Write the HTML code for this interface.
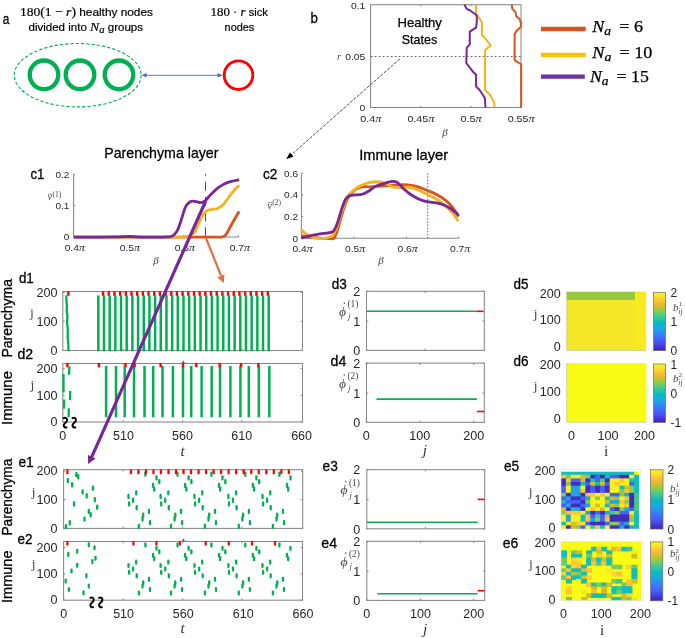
<!DOCTYPE html>
<html><head><meta charset="utf-8"><title>figure</title>
<style>html,body{margin:0;padding:0;background:#fff}svg{display:block}</style></head>
<body><svg width="685" height="638" viewBox="0 0 685 638">
<rect width="685" height="638" fill="#fff"/>
<text x="2.8" y="24" font-family='"Liberation Sans", sans-serif' font-size="15.5" fill="#000" textLength="6.6" lengthAdjust="spacingAndGlyphs" stroke="#000" stroke-width="0.3">a</text>
<text x="19.9" y="16" font-family='"Liberation Sans", sans-serif' font-size="11.3" fill="#000" textLength="133" lengthAdjust="spacingAndGlyphs" stroke="#000" stroke-width="0.2"><tspan font-family='"Liberation Serif", serif' font-size="13">180(1 − <tspan font-style="italic">r</tspan>)</tspan> healthy nodes</text>
<text x="28.5" y="31" font-family='"Liberation Sans", sans-serif' font-size="11.3" fill="#000" textLength="114.5" lengthAdjust="spacingAndGlyphs" stroke="#000" stroke-width="0.2">divided into <tspan font-family='"Liberation Serif", serif' font-style="italic" font-size="13.5">N<tspan font-size="10.5" dy="2">a</tspan></tspan><tspan dy="-2"> groups</tspan></text>
<ellipse cx="77.7" cy="75.2" rx="63.4" ry="31.7" fill="none" stroke="#00B050" stroke-width="1.15" stroke-dasharray="3.3 2"/>
<circle cx="44" cy="74.8" r="14.3" fill="none" stroke="#00B050" stroke-width="4.3"/>
<circle cx="80" cy="74.8" r="14.3" fill="none" stroke="#00B050" stroke-width="4.3"/>
<circle cx="119" cy="74.8" r="14.3" fill="none" stroke="#00B050" stroke-width="4.3"/>
<circle cx="238.5" cy="75.2" r="14.3" fill="none" stroke="#FF0000" stroke-width="2.9"/>
<line x1="145" y1="75.3" x2="219" y2="75.3" stroke="#4472C4" stroke-width="0.9"/>
<path d="M141.3 75.3 L146.6 73 L146.6 77.6 Z" fill="#4472C4"/>
<path d="M222.8 75.3 L217.5 73 L217.5 77.6 Z" fill="#4472C4"/>
<text x="210.6" y="16" font-family='"Liberation Sans", sans-serif' font-size="11.3" fill="#000" textLength="57.3" lengthAdjust="spacingAndGlyphs" stroke="#000" stroke-width="0.2"><tspan font-family='"Liberation Serif", serif' font-size="13">180 · <tspan font-style="italic">r</tspan></tspan> sick</text>
<text x="224.6" y="31" font-family='"Liberation Sans", sans-serif' font-size="11.3" fill="#000" textLength="29.7" lengthAdjust="spacingAndGlyphs" stroke="#000" stroke-width="0.2">nodes</text>
<text x="310.6" y="22.7" font-family='"Liberation Sans", sans-serif' font-size="15.5" fill="#000" textLength="7.4" lengthAdjust="spacingAndGlyphs" stroke="#000" stroke-width="0.3">b</text>
<rect x="370.6" y="4.7" width="150.4" height="102.8" fill="none" stroke="#878787" stroke-width="1.05"/>
<text x="397.5" y="26.9" font-family='"Liberation Sans", sans-serif' font-size="13.4" fill="#000" textLength="44.4" lengthAdjust="spacingAndGlyphs" stroke="#000" stroke-width="0.25">Healthy</text>
<text x="401.7" y="43.7" font-family='"Liberation Sans", sans-serif' font-size="13.4" fill="#000" textLength="35.5" lengthAdjust="spacingAndGlyphs" stroke="#000" stroke-width="0.25">States</text>
<line x1="370.6" y1="56.5" x2="521" y2="56.5" stroke="#333" stroke-width="0.7" stroke-dasharray="2 2"/>
<text x="365.4" y="8.9" font-family='"Liberation Sans", sans-serif' font-size="9.9" fill="#262626" text-anchor="end" textLength="14.46" lengthAdjust="spacingAndGlyphs">0.1</text>
<text x="365.4" y="60.1" font-family='"Liberation Sans", sans-serif' font-size="9.9" fill="#262626" text-anchor="end" textLength="20.24" lengthAdjust="spacingAndGlyphs">0.05</text>
<text x="365.4" y="111.1" font-family='"Liberation Sans", sans-serif' font-size="9.9" fill="#262626" text-anchor="end" textLength="5.78" lengthAdjust="spacingAndGlyphs">0</text>
<text x="339" y="59.5" font-family='"Liberation Serif", serif' font-size="10" fill="#454545" text-anchor="middle" font-style="italic">r</text>
<text x="370.8" y="122.2" font-family='"Liberation Sans", sans-serif' font-size="9.9" fill="#262626" text-anchor="middle" textLength="21.21" lengthAdjust="spacingAndGlyphs">0.4<tspan font-family='"Liberation Serif", serif' font-style="italic" font-size="11.4">π</tspan></text>
<text x="420.93" y="122.2" font-family='"Liberation Sans", sans-serif' font-size="9.9" fill="#262626" text-anchor="middle" textLength="27" lengthAdjust="spacingAndGlyphs">0.45<tspan font-family='"Liberation Serif", serif' font-style="italic" font-size="11.4">π</tspan></text>
<line x1="420.73" y1="107.5" x2="420.73" y2="106" stroke="#878787" stroke-width="1.05"/>
<line x1="420.73" y1="4.7" x2="420.73" y2="6.2" stroke="#878787" stroke-width="1.05"/>
<text x="471.07" y="122.2" font-family='"Liberation Sans", sans-serif' font-size="9.9" fill="#262626" text-anchor="middle" textLength="21.21" lengthAdjust="spacingAndGlyphs">0.5<tspan font-family='"Liberation Serif", serif' font-style="italic" font-size="11.4">π</tspan></text>
<line x1="470.87" y1="107.5" x2="470.87" y2="106" stroke="#878787" stroke-width="1.05"/>
<line x1="470.87" y1="4.7" x2="470.87" y2="6.2" stroke="#878787" stroke-width="1.05"/>
<text x="521.2" y="122.2" font-family='"Liberation Sans", sans-serif' font-size="9.9" fill="#262626" text-anchor="middle" textLength="27" lengthAdjust="spacingAndGlyphs">0.55<tspan font-family='"Liberation Serif", serif' font-style="italic" font-size="11.4">π</tspan></text>
<text x="445" y="135.5" font-family='"Liberation Serif", serif' font-size="11" fill="#454545" text-anchor="middle" font-style="italic">β</text>
<path d="M511.82 4.67 L512.29 8.88 L515.33 11.68 L516.26 16.36 L519.3 18.69 L521.17 23.36 L520.47 27.57 L516.96 30.37 L514.63 33.88 L514.63 60.28 L521.17 64.25 L521.17 107.48" fill="none" stroke="#D9531A" stroke-width="2.0" stroke-linejoin="round"/>
<path d="M476.07 4.67 L476.07 15.19 L478.88 17.52 L481.92 22.2 L481.92 35.05 L485.42 38.55 L490.79 45.56 L487.76 47.9 L484.95 50.23 L484.95 89.95 L488.93 93.46 L491.26 96.96 L494.3 102.8 L494.3 107.48" fill="none" stroke="#F2B41E" stroke-width="2.0" stroke-linejoin="round"/>
<path d="M464.39 4.67 L466.73 8.88 L470.23 10.51 L476.78 15.19 L476.78 22.2 L476.07 27.57 L469.77 31.54 L469.77 44.39 L466.73 47.9 L466.26 63.08 L469.07 66.59 L472.57 71.26 L476.07 74.77 L476.07 86.45 L479.58 89.95 L481.92 93.46 L484.95 98.13 L485.42 107.48" fill="none" stroke="#7A2699" stroke-width="2.0" stroke-linejoin="round"/>
<line x1="540.9" y1="29" x2="585.7" y2="29" stroke="#D9541C" stroke-width="4.3"/>
<line x1="540.9" y1="54.9" x2="585.7" y2="54.9" stroke="#FFC000" stroke-width="4.3"/>
<line x1="540.9" y1="76.6" x2="584.8" y2="76.6" stroke="#7030A0" stroke-width="4.3"/>
<text x="592.3" y="31.5" font-family='"Liberation Serif", serif' font-size="16.5" fill="#000" textLength="50.7" lengthAdjust="spacingAndGlyphs" stroke="#000" stroke-width="0.25"><tspan font-style="italic">N<tspan font-size="12.5" dy="3">a</tspan></tspan><tspan dy="-3">  = 6</tspan></text>
<text x="592.3" y="58" font-family='"Liberation Serif", serif' font-size="16.5" fill="#000" textLength="60" lengthAdjust="spacingAndGlyphs" stroke="#000" stroke-width="0.25"><tspan font-style="italic">N<tspan font-size="12.5" dy="3">a</tspan></tspan><tspan dy="-3">  = 10</tspan></text>
<text x="590" y="81.8" font-family='"Liberation Serif", serif' font-size="16.5" fill="#000" textLength="58.8" lengthAdjust="spacingAndGlyphs" stroke="#000" stroke-width="0.25"><tspan font-style="italic">N<tspan font-size="12.5" dy="3">a</tspan></tspan><tspan dy="-3">  = 15</tspan></text>
<line x1="399.8" y1="58.9" x2="291" y2="155" stroke="#222" stroke-width="0.8" stroke-dasharray="3.2 1.3"/>
<path d="M286.2 159.2 L289.9 152.4 L293.6 156.4 Z" fill="#000"/>
<text x="104.2" y="157.5" font-family='"Liberation Sans", sans-serif' font-size="15" fill="#000" textLength="114.3" lengthAdjust="spacingAndGlyphs" stroke="#000" stroke-width="0.3">Parenchyma layer</text>
<text x="359.2" y="160" font-family='"Liberation Sans", sans-serif' font-size="15" fill="#000" textLength="89" lengthAdjust="spacingAndGlyphs" stroke="#000" stroke-width="0.3">Immune layer</text>
<text x="30.4" y="178.6" font-family='"Liberation Sans", sans-serif' font-size="15.3" fill="#000" textLength="14" lengthAdjust="spacingAndGlyphs" stroke="#000" stroke-width="0.3">c1</text>
<line x1="73.6" y1="173.9" x2="73.6" y2="237" stroke="#878787" stroke-width="1.05"/>
<line x1="73.6" y1="237" x2="238.6" y2="237" stroke="#878787" stroke-width="1.05"/>
<text x="69.4" y="177.7" font-family='"Liberation Sans", sans-serif' font-size="9.3" fill="#262626" text-anchor="end" textLength="13.9" lengthAdjust="spacingAndGlyphs">0.2</text>
<line x1="73.6" y1="174.3" x2="75.2" y2="174.3" stroke="#878787" stroke-width="1.05"/>
<text x="69.4" y="208.8" font-family='"Liberation Sans", sans-serif' font-size="9.3" fill="#262626" text-anchor="end" textLength="13.9" lengthAdjust="spacingAndGlyphs">0.1</text>
<line x1="73.6" y1="205.4" x2="75.2" y2="205.4" stroke="#878787" stroke-width="1.05"/>
<text x="69.4" y="240.4" font-family='"Liberation Sans", sans-serif' font-size="9.3" fill="#262626" text-anchor="end" textLength="5.56" lengthAdjust="spacingAndGlyphs">0</text>
<line x1="73.6" y1="237" x2="75.2" y2="237" stroke="#878787" stroke-width="1.05"/>
<text x="74.8" y="251.2" font-family='"Liberation Sans", sans-serif' font-size="9.3" fill="#262626" text-anchor="middle" textLength="20.29" lengthAdjust="spacingAndGlyphs">0.4<tspan font-family='"Liberation Serif", serif' font-style="italic" font-size="10.8">π</tspan></text>
<line x1="73.6" y1="237" x2="73.6" y2="235.2" stroke="#878787" stroke-width="1.05"/>
<text x="129.8" y="251.2" font-family='"Liberation Sans", sans-serif' font-size="9.3" fill="#262626" text-anchor="middle" textLength="20.29" lengthAdjust="spacingAndGlyphs">0.5<tspan font-family='"Liberation Serif", serif' font-style="italic" font-size="10.8">π</tspan></text>
<line x1="128.6" y1="237" x2="128.6" y2="235.2" stroke="#878787" stroke-width="1.05"/>
<text x="184.8" y="251.2" font-family='"Liberation Sans", sans-serif' font-size="9.3" fill="#262626" text-anchor="middle" textLength="20.29" lengthAdjust="spacingAndGlyphs">0.6<tspan font-family='"Liberation Serif", serif' font-style="italic" font-size="10.8">π</tspan></text>
<line x1="183.6" y1="237" x2="183.6" y2="235.2" stroke="#878787" stroke-width="1.05"/>
<text x="239.8" y="251.2" font-family='"Liberation Sans", sans-serif' font-size="9.3" fill="#262626" text-anchor="middle" textLength="20.29" lengthAdjust="spacingAndGlyphs">0.7<tspan font-family='"Liberation Serif", serif' font-style="italic" font-size="10.8">π</tspan></text>
<line x1="238.6" y1="237" x2="238.6" y2="235.2" stroke="#878787" stroke-width="1.05"/>
<text x="156.1" y="263.5" font-family='"Liberation Serif", serif' font-size="11" fill="#454545" text-anchor="middle" font-style="italic">β</text>
<text x="47.4" y="200.4" font-family='"Liberation Serif", serif' font-size="10.5" fill="#454545" font-style="italic">ν</text>
<line x1="48.2" y1="194.1" x2="52" y2="194.1" stroke="#454545" stroke-width="0.6"/>
<text x="52.4" y="196.8" font-family='"Liberation Serif", serif' font-size="7.5" fill="#454545">(1)</text>
<line x1="205.5" y1="173.9" x2="205.5" y2="237" stroke="#222" stroke-width="0.8" stroke-dasharray="9.3 5.9" stroke-dashoffset="7.5"/>
<path d="M73.69 237.2 C83.08 237.2 112.83 237.2 130 237.2 C147.17 237.2 163.88 237.2 176.73 237.2 C189.58 237.2 200.29 237.2 207.1 237.2 C213.92 237.2 215.16 237.23 217.62 237.2 C220.07 237.17 220.46 237.4 221.82 237.01 C223.19 236.62 224.35 236.62 225.79 234.86 C227.24 233.1 228.91 229.21 230.47 226.45 C232.02 223.68 233.7 220.76 235.14 218.27 C236.58 215.78 238.45 212.62 239.11 211.5" fill="none" stroke="#D9531A" stroke-width="2.8" stroke-linejoin="round"/>
<path d="M73.69 237.2 C83.08 237.2 114.77 237.2 130 237.2 C145.23 237.2 157.06 237.2 165.05 237.2 C173.03 237.2 174.7 237.24 177.9 237.2 C181.09 237.16 182.22 237.2 184.21 236.96 C186.19 236.73 188.06 236.57 189.81 235.79 C191.57 235.02 193.12 234.63 194.72 232.29 C196.32 229.95 197.87 224.89 199.39 221.78 C200.91 218.66 202.35 215.55 203.83 213.6 C205.31 211.65 206.87 210.79 208.27 210.09 C209.67 209.39 210.69 209.67 212.24 209.39 C213.8 209.12 215.75 209.31 217.62 208.46 C219.49 207.6 221.32 206.51 223.46 204.25 C225.6 201.99 227.86 198.1 230.47 194.91 C233.08 191.71 237.67 186.73 239.11 185.09" fill="none" stroke="#F2B41E" stroke-width="2.8" stroke-linejoin="round"/>
<path d="M73.69 237.08 C77.24 237.08 87.9 237.1 94.95 237.08 C102 237.06 110.14 237.06 115.98 236.96 C121.82 236.87 125.33 236.48 130 236.5 C134.67 236.51 139.35 236.98 144.02 237.08 C148.69 237.18 154.14 237.12 158.04 237.08 C161.93 237.04 165.28 236.94 167.38 236.85 C169.49 236.75 169.56 236.79 170.65 236.5 C171.74 236.2 172.76 236.18 173.93 235.09 C175.09 234 176.42 232.56 177.66 229.95 C178.91 227.34 180.16 223.14 181.4 219.44 C182.65 215.74 183.89 210.56 185.14 207.76 C186.39 204.95 187.63 203.71 188.88 202.62 C190.12 201.53 191.33 201.37 192.62 201.21 C193.9 201.06 195.26 201.45 196.59 201.68 C197.91 201.92 199.2 202.69 200.56 202.62 C201.92 202.54 203.29 202.31 204.77 201.21 C206.25 200.12 207.49 198.1 209.44 196.07 C211.39 194.05 214.11 191.01 216.45 189.07 C218.79 187.12 221.12 185.64 223.46 184.39 C225.79 183.15 227.86 182.37 230.47 181.59 C233.08 180.81 237.67 180.03 239.11 179.72" fill="none" stroke="#7A2699" stroke-width="2.8" stroke-linejoin="round"/>
<text x="262.9" y="179" font-family='"Liberation Sans", sans-serif' font-size="15.3" fill="#000" textLength="14.4" lengthAdjust="spacingAndGlyphs" stroke="#000" stroke-width="0.3">c2</text>
<line x1="301.4" y1="173.2" x2="301.4" y2="238.2" stroke="#878787" stroke-width="1.05"/>
<line x1="301.4" y1="238.2" x2="458.9" y2="238.2" stroke="#878787" stroke-width="1.05"/>
<text x="298" y="241.6" font-family='"Liberation Sans", sans-serif' font-size="9.3" fill="#262626" text-anchor="end" textLength="5.56" lengthAdjust="spacingAndGlyphs">0</text>
<line x1="301.4" y1="238.2" x2="303" y2="238.2" stroke="#878787" stroke-width="1.05"/>
<text x="298" y="219.93" font-family='"Liberation Sans", sans-serif' font-size="9.3" fill="#262626" text-anchor="end" textLength="13.9" lengthAdjust="spacingAndGlyphs">0.2</text>
<line x1="301.4" y1="216.53" x2="303" y2="216.53" stroke="#878787" stroke-width="1.05"/>
<text x="298" y="198.27" font-family='"Liberation Sans", sans-serif' font-size="9.3" fill="#262626" text-anchor="end" textLength="13.9" lengthAdjust="spacingAndGlyphs">0.4</text>
<line x1="301.4" y1="194.87" x2="303" y2="194.87" stroke="#878787" stroke-width="1.05"/>
<text x="298" y="177" font-family='"Liberation Sans", sans-serif' font-size="9.3" fill="#262626" text-anchor="end" textLength="13.9" lengthAdjust="spacingAndGlyphs">0.6</text>
<line x1="301.4" y1="173.2" x2="303" y2="173.2" stroke="#878787" stroke-width="1.05"/>
<text x="302.6" y="252.3" font-family='"Liberation Sans", sans-serif' font-size="9.3" fill="#262626" text-anchor="middle" textLength="20.29" lengthAdjust="spacingAndGlyphs">0.4<tspan font-family='"Liberation Serif", serif' font-style="italic" font-size="10.8">π</tspan></text>
<line x1="301.4" y1="238.2" x2="301.4" y2="236.4" stroke="#878787" stroke-width="1.05"/>
<text x="355.1" y="252.3" font-family='"Liberation Sans", sans-serif' font-size="9.3" fill="#262626" text-anchor="middle" textLength="20.29" lengthAdjust="spacingAndGlyphs">0.5<tspan font-family='"Liberation Serif", serif' font-style="italic" font-size="10.8">π</tspan></text>
<line x1="353.9" y1="238.2" x2="353.9" y2="236.4" stroke="#878787" stroke-width="1.05"/>
<text x="407.6" y="252.3" font-family='"Liberation Sans", sans-serif' font-size="9.3" fill="#262626" text-anchor="middle" textLength="20.29" lengthAdjust="spacingAndGlyphs">0.6<tspan font-family='"Liberation Serif", serif' font-style="italic" font-size="10.8">π</tspan></text>
<line x1="406.4" y1="238.2" x2="406.4" y2="236.4" stroke="#878787" stroke-width="1.05"/>
<text x="460.1" y="252.3" font-family='"Liberation Sans", sans-serif' font-size="9.3" fill="#262626" text-anchor="middle" textLength="20.29" lengthAdjust="spacingAndGlyphs">0.7<tspan font-family='"Liberation Serif", serif' font-style="italic" font-size="10.8">π</tspan></text>
<line x1="458.9" y1="238.2" x2="458.9" y2="236.4" stroke="#878787" stroke-width="1.05"/>
<text x="381" y="264" font-family='"Liberation Serif", serif' font-size="11" fill="#454545" text-anchor="middle" font-style="italic">β</text>
<text x="267.2" y="209" font-family='"Liberation Serif", serif' font-size="10.5" fill="#454545" font-style="italic">ν</text>
<line x1="268" y1="202.7" x2="271.8" y2="202.7" stroke="#454545" stroke-width="0.6"/>
<text x="272.2" y="205.4" font-family='"Liberation Serif", serif' font-size="7.5" fill="#454545">(2)</text>
<line x1="427.7" y1="173.2" x2="427.7" y2="238.2" stroke="#222" stroke-width="0.7" stroke-dasharray="1.6 1.6"/>
<path d="M301.4 235.61 C302.57 235.84 305.3 236.58 308.41 237.01 C311.53 237.44 316.39 237.9 320.09 238.18 C323.79 238.45 328.19 238.76 330.61 238.64 C333.02 238.53 333.22 239.62 334.58 237.48 C335.94 235.33 337.31 230.47 338.79 225.79 C340.26 221.12 341.9 214.11 343.46 209.44 C345.02 204.77 346.18 201.07 348.13 197.76 C350.08 194.45 352.8 191.41 355.14 189.58 C357.48 187.75 359.42 187.24 362.15 186.78 C364.88 186.31 366.96 186.97 371.5 186.78 C376.03 186.58 384.81 185.92 389.35 185.61 C393.88 185.3 395.58 185.02 398.69 184.91 C401.81 184.79 404.92 184.63 408.04 184.91 C411.15 185.18 414.27 185.65 417.38 186.54 C420.5 187.44 423.61 189 426.73 190.28 C429.84 191.57 432.96 192.62 436.07 194.25 C439.19 195.89 442.69 197.95 445.42 200.09 C448.15 202.24 450.21 204.38 452.43 207.1 C454.65 209.83 457.69 214.89 458.74 216.45" fill="none" stroke="#D9531A" stroke-width="2.8" stroke-linejoin="round"/>
<path d="M301.4 230 C302.18 230.66 304.13 232.73 306.07 233.97 C308.02 235.22 310.75 236.7 313.08 237.48 C315.42 238.26 317.76 238.57 320.09 238.64 C322.43 238.72 324.96 238.53 327.1 237.94 C329.24 237.36 331.39 236.78 332.94 235.14 C334.5 233.5 335.09 231.64 336.45 228.13 C337.81 224.63 339.56 218.79 341.12 214.11 C342.68 209.44 344.24 203.6 345.79 200.09 C347.35 196.59 348.13 195.42 350.47 193.08 C352.8 190.75 356.7 187.83 359.81 186.07 C362.93 184.32 365.79 183.27 369.16 182.57 C372.52 181.87 377.02 181.6 380 181.87 C382.98 182.14 384.67 183.31 387.01 184.21 C389.35 185.1 391.68 186.62 394.02 187.24 C396.36 187.87 398.69 187.94 401.03 187.94 C403.36 187.94 405.31 186.97 408.04 187.24 C410.76 187.52 414.27 188.41 417.38 189.58 C420.5 190.75 423.61 192.69 426.73 194.25 C429.84 195.81 432.96 196.98 436.07 198.93 C439.19 200.87 442.69 203.6 445.42 205.93 C448.15 208.27 450.29 210.41 452.43 212.94 C454.57 215.48 457.3 219.76 458.27 221.12" fill="none" stroke="#F2B41E" stroke-width="2.8" stroke-linejoin="round"/>
<path d="M301.4 238.18 C302.96 237.75 307.63 236.31 310.75 235.61 C313.86 234.91 316.59 234.56 320.09 233.97 C323.6 233.39 329.24 233.08 331.78 232.1 C334.31 231.13 334.11 230.35 335.28 228.13 C336.45 225.91 337.62 222.29 338.79 218.79 C339.95 215.28 341.12 210.41 342.29 207.1 C343.46 203.79 344.63 200.79 345.79 198.93 C346.96 197.06 347.74 196.55 349.3 195.89 C350.86 195.23 353 195.23 355.14 194.95 C357.28 194.68 359.81 194.95 362.15 194.25 C364.49 193.55 366.82 192.11 369.16 190.75 C371.5 189.38 373.19 187.44 376.17 186.07 C379.14 184.71 384.23 183.35 387.01 182.57 C389.79 181.79 391.1 181.4 392.85 181.4 C394.6 181.4 395.77 181.4 397.52 182.57 C399.28 183.74 401.22 186.46 403.36 188.41 C405.51 190.36 407.84 192.5 410.37 194.25 C412.9 196 415.83 197.68 418.55 198.93 C421.28 200.17 423.81 201.07 426.73 201.73 C429.65 202.39 433.35 202.39 436.07 202.9 C438.8 203.4 440.75 203.87 443.08 204.77 C445.42 205.66 447.48 206.52 450.09 208.27 C452.7 210.02 457.3 214.11 458.74 215.28" fill="none" stroke="#7A2699" stroke-width="2.8" stroke-linejoin="round"/>
<text x="18.9" y="283.1" font-family='"Liberation Sans", sans-serif' font-size="15.3" fill="#000" textLength="14.9" lengthAdjust="spacingAndGlyphs" stroke="#000" stroke-width="0.3">d1</text>
<text x="11.6" y="357.5" font-family='"Liberation Sans", sans-serif' font-size="15.3" fill="#000" textLength="78.5" lengthAdjust="spacingAndGlyphs" transform="rotate(-90 11.6 357.5)" stroke="#000" stroke-width="0.3">Parenchyma</text>
<text x="11.6" y="425" font-family='"Liberation Sans", sans-serif' font-size="15.3" fill="#000" textLength="54" lengthAdjust="spacingAndGlyphs" transform="rotate(-90 11.6 425)" stroke="#000" stroke-width="0.3">Immune</text>
<text x="32" y="316.7" font-family='"Liberation Serif", serif' font-size="13.5" fill="#454545" text-anchor="middle">j</text>
<text x="182.9" y="368.6" font-family='"Liberation Serif", serif' font-size="15" fill="#454545" text-anchor="middle" font-style="italic">t</text>
<rect x="62.8" y="291.5" width="239.7" height="59" fill="none" stroke="#878787" stroke-width="1.05"/>
<text x="57.6" y="296.7" font-family='"Liberation Sans", sans-serif' font-size="12" fill="#262626" text-anchor="end" textLength="21.02" lengthAdjust="spacingAndGlyphs">200</text>
<line x1="62.8" y1="292.5" x2="64.6" y2="292.5" stroke="#878787" stroke-width="1.05"/>
<line x1="302.5" y1="292.5" x2="300.7" y2="292.5" stroke="#878787" stroke-width="1.05"/>
<text x="57.6" y="325.5" font-family='"Liberation Sans", sans-serif' font-size="12" fill="#262626" text-anchor="end" textLength="21.02" lengthAdjust="spacingAndGlyphs">100</text>
<line x1="62.8" y1="321.3" x2="64.6" y2="321.3" stroke="#878787" stroke-width="1.05"/>
<line x1="302.5" y1="321.3" x2="300.7" y2="321.3" stroke="#878787" stroke-width="1.05"/>
<text x="57.6" y="354.7" font-family='"Liberation Sans", sans-serif' font-size="12" fill="#262626" text-anchor="end" textLength="7.01" lengthAdjust="spacingAndGlyphs">0</text>
<line x1="62.8" y1="350.5" x2="64.6" y2="350.5" stroke="#878787" stroke-width="1.05"/>
<line x1="302.5" y1="350.5" x2="300.7" y2="350.5" stroke="#878787" stroke-width="1.05"/>
<line x1="123.2" y1="350.5" x2="123.2" y2="348.7" stroke="#878787" stroke-width="1.05"/>
<line x1="123.2" y1="291.5" x2="123.2" y2="293.3" stroke="#878787" stroke-width="1.05"/>
<line x1="182.6" y1="350.5" x2="182.6" y2="348.7" stroke="#878787" stroke-width="1.05"/>
<line x1="182.6" y1="291.5" x2="182.6" y2="293.3" stroke="#878787" stroke-width="1.05"/>
<line x1="242" y1="350.5" x2="242" y2="348.7" stroke="#878787" stroke-width="1.05"/>
<line x1="242" y1="291.5" x2="242" y2="293.3" stroke="#878787" stroke-width="1.05"/>
<path d="M66.4 295.3 L66.3 300 L66.9 305 L66.7 311 L67.4 316 L67.1 323 L67.8 330 L67.7 338 L68.3 344 L68.5 351.2" fill="none" stroke="#00B050" stroke-width="2.3" stroke-linejoin="round"/>
<rect x="67.1" y="291.2" width="2.4" height="4.6" fill="#FF0000"/>
<line x1="98.3" y1="295.4" x2="98.3" y2="351.3" stroke="#00B050" stroke-width="2.5"/>
<line x1="103.98" y1="295.4" x2="103.98" y2="351.3" stroke="#00B050" stroke-width="2.5"/>
<rect x="101.88" y="291.2" width="2.4" height="4.6" fill="#FF0000"/>
<line x1="109.66" y1="295.4" x2="109.66" y2="351.3" stroke="#00B050" stroke-width="2.5"/>
<rect x="107.56" y="291.2" width="2.4" height="4.6" fill="#FF0000"/>
<line x1="115.34" y1="295.4" x2="115.34" y2="351.3" stroke="#00B050" stroke-width="2.5"/>
<rect x="113.24" y="291.2" width="2.4" height="4.6" fill="#FF0000"/>
<line x1="121.02" y1="295.4" x2="121.02" y2="351.3" stroke="#00B050" stroke-width="2.5"/>
<rect x="118.92" y="291.2" width="2.4" height="4.6" fill="#FF0000"/>
<line x1="126.7" y1="295.4" x2="126.7" y2="351.3" stroke="#00B050" stroke-width="2.5"/>
<rect x="124.6" y="291.2" width="2.4" height="4.6" fill="#FF0000"/>
<line x1="132.38" y1="295.4" x2="132.38" y2="351.3" stroke="#00B050" stroke-width="2.5"/>
<rect x="130.28" y="291.2" width="2.4" height="4.6" fill="#FF0000"/>
<line x1="138.06" y1="295.4" x2="138.06" y2="351.3" stroke="#00B050" stroke-width="2.5"/>
<rect x="135.96" y="291.2" width="2.4" height="4.6" fill="#FF0000"/>
<line x1="143.74" y1="295.4" x2="143.74" y2="351.3" stroke="#00B050" stroke-width="2.5"/>
<rect x="141.64" y="291.2" width="2.4" height="4.6" fill="#FF0000"/>
<line x1="149.42" y1="295.4" x2="149.42" y2="351.3" stroke="#00B050" stroke-width="2.5"/>
<rect x="147.32" y="291.2" width="2.4" height="4.6" fill="#FF0000"/>
<line x1="155.1" y1="295.4" x2="155.1" y2="351.3" stroke="#00B050" stroke-width="2.5"/>
<rect x="153" y="291.2" width="2.4" height="4.6" fill="#FF0000"/>
<line x1="160.78" y1="295.4" x2="160.78" y2="351.3" stroke="#00B050" stroke-width="2.5"/>
<rect x="158.68" y="291.2" width="2.4" height="4.6" fill="#FF0000"/>
<line x1="166.46" y1="295.4" x2="166.46" y2="351.3" stroke="#00B050" stroke-width="2.5"/>
<rect x="164.36" y="291.2" width="2.4" height="4.6" fill="#FF0000"/>
<line x1="172.14" y1="295.4" x2="172.14" y2="351.3" stroke="#00B050" stroke-width="2.5"/>
<rect x="170.04" y="291.2" width="2.4" height="4.6" fill="#FF0000"/>
<line x1="177.82" y1="295.4" x2="177.82" y2="351.3" stroke="#00B050" stroke-width="2.5"/>
<rect x="175.72" y="291.2" width="2.4" height="4.6" fill="#FF0000"/>
<line x1="183.5" y1="295.4" x2="183.5" y2="351.3" stroke="#00B050" stroke-width="2.5"/>
<rect x="181.4" y="291.2" width="2.4" height="4.6" fill="#FF0000"/>
<line x1="189.18" y1="295.4" x2="189.18" y2="351.3" stroke="#00B050" stroke-width="2.5"/>
<rect x="187.08" y="291.2" width="2.4" height="4.6" fill="#FF0000"/>
<line x1="194.86" y1="295.4" x2="194.86" y2="351.3" stroke="#00B050" stroke-width="2.5"/>
<rect x="192.76" y="291.2" width="2.4" height="4.6" fill="#FF0000"/>
<line x1="200.54" y1="295.4" x2="200.54" y2="351.3" stroke="#00B050" stroke-width="2.5"/>
<rect x="198.44" y="291.2" width="2.4" height="4.6" fill="#FF0000"/>
<line x1="206.22" y1="295.4" x2="206.22" y2="351.3" stroke="#00B050" stroke-width="2.5"/>
<rect x="204.12" y="291.2" width="2.4" height="4.6" fill="#FF0000"/>
<line x1="211.9" y1="295.4" x2="211.9" y2="351.3" stroke="#00B050" stroke-width="2.5"/>
<rect x="209.8" y="291.2" width="2.4" height="4.6" fill="#FF0000"/>
<line x1="217.58" y1="295.4" x2="217.58" y2="351.3" stroke="#00B050" stroke-width="2.5"/>
<rect x="215.48" y="291.2" width="2.4" height="4.6" fill="#FF0000"/>
<line x1="223.26" y1="295.4" x2="223.26" y2="351.3" stroke="#00B050" stroke-width="2.5"/>
<rect x="221.16" y="291.2" width="2.4" height="4.6" fill="#FF0000"/>
<line x1="228.94" y1="295.4" x2="228.94" y2="351.3" stroke="#00B050" stroke-width="2.5"/>
<rect x="226.84" y="291.2" width="2.4" height="4.6" fill="#FF0000"/>
<line x1="234.62" y1="295.4" x2="234.62" y2="351.3" stroke="#00B050" stroke-width="2.5"/>
<rect x="232.52" y="291.2" width="2.4" height="4.6" fill="#FF0000"/>
<line x1="240.3" y1="295.4" x2="240.3" y2="351.3" stroke="#00B050" stroke-width="2.5"/>
<rect x="238.2" y="291.2" width="2.4" height="4.6" fill="#FF0000"/>
<line x1="245.98" y1="295.4" x2="245.98" y2="351.3" stroke="#00B050" stroke-width="2.5"/>
<rect x="243.88" y="291.2" width="2.4" height="4.6" fill="#FF0000"/>
<line x1="251.66" y1="295.4" x2="251.66" y2="351.3" stroke="#00B050" stroke-width="2.5"/>
<rect x="249.56" y="291.2" width="2.4" height="4.6" fill="#FF0000"/>
<line x1="257.34" y1="295.4" x2="257.34" y2="351.3" stroke="#00B050" stroke-width="2.5"/>
<rect x="255.24" y="291.2" width="2.4" height="4.6" fill="#FF0000"/>
<line x1="263.02" y1="295.4" x2="263.02" y2="351.3" stroke="#00B050" stroke-width="2.5"/>
<rect x="260.92" y="291.2" width="2.4" height="4.6" fill="#FF0000"/>
<line x1="268.7" y1="295.4" x2="268.7" y2="351.3" stroke="#00B050" stroke-width="2.5"/>
<rect x="266.6" y="291.2" width="2.4" height="4.6" fill="#FF0000"/>
<text x="17.5" y="359.1" font-family='"Liberation Sans", sans-serif' font-size="15.3" fill="#000" textLength="15.7" lengthAdjust="spacingAndGlyphs" stroke="#000" stroke-width="0.3">d2</text>
<text x="32.3" y="388.7" font-family='"Liberation Serif", serif' font-size="13.5" fill="#454545" text-anchor="middle">j</text>
<rect x="62.8" y="363.5" width="239.7" height="58.5" fill="#fff"/>
<rect x="62.8" y="363.5" width="239.7" height="58.5" fill="none" stroke="#878787" stroke-width="1.05"/>
<text x="57.6" y="372.8" font-family='"Liberation Sans", sans-serif' font-size="12" fill="#262626" text-anchor="end" textLength="21.02" lengthAdjust="spacingAndGlyphs">200</text>
<line x1="62.8" y1="368.6" x2="64.6" y2="368.6" stroke="#878787" stroke-width="1.05"/>
<line x1="302.5" y1="368.6" x2="300.7" y2="368.6" stroke="#878787" stroke-width="1.05"/>
<text x="57.6" y="399.6" font-family='"Liberation Sans", sans-serif' font-size="12" fill="#262626" text-anchor="end" textLength="21.02" lengthAdjust="spacingAndGlyphs">100</text>
<line x1="62.8" y1="395.4" x2="64.6" y2="395.4" stroke="#878787" stroke-width="1.05"/>
<line x1="302.5" y1="395.4" x2="300.7" y2="395.4" stroke="#878787" stroke-width="1.05"/>
<text x="57.6" y="426.2" font-family='"Liberation Sans", sans-serif' font-size="12" fill="#262626" text-anchor="end" textLength="7.01" lengthAdjust="spacingAndGlyphs">0</text>
<line x1="62.8" y1="422" x2="64.6" y2="422" stroke="#878787" stroke-width="1.05"/>
<line x1="302.5" y1="422" x2="300.7" y2="422" stroke="#878787" stroke-width="1.05"/>
<line x1="123.2" y1="422" x2="123.2" y2="420.2" stroke="#878787" stroke-width="1.05"/>
<line x1="123.2" y1="363.5" x2="123.2" y2="365.3" stroke="#878787" stroke-width="1.05"/>
<line x1="182.6" y1="422" x2="182.6" y2="420.2" stroke="#878787" stroke-width="1.05"/>
<line x1="182.6" y1="363.5" x2="182.6" y2="365.3" stroke="#878787" stroke-width="1.05"/>
<line x1="242" y1="422" x2="242" y2="420.2" stroke="#878787" stroke-width="1.05"/>
<line x1="242" y1="363.5" x2="242" y2="365.3" stroke="#878787" stroke-width="1.05"/>
<text x="62.8" y="439.8" font-family='"Liberation Sans", sans-serif' font-size="12" fill="#262626" text-anchor="middle" textLength="6.95" lengthAdjust="spacingAndGlyphs">0</text>
<text x="123.5" y="439.8" font-family='"Liberation Sans", sans-serif' font-size="12" fill="#262626" text-anchor="middle" textLength="20.85" lengthAdjust="spacingAndGlyphs">510</text>
<text x="182.5" y="439.8" font-family='"Liberation Sans", sans-serif' font-size="12" fill="#262626" text-anchor="middle" textLength="20.85" lengthAdjust="spacingAndGlyphs">560</text>
<text x="241.7" y="439.8" font-family='"Liberation Sans", sans-serif' font-size="12" fill="#262626" text-anchor="middle" textLength="20.85" lengthAdjust="spacingAndGlyphs">610</text>
<text x="301.6" y="439.8" font-family='"Liberation Sans", sans-serif' font-size="12" fill="#262626" text-anchor="middle" textLength="20.85" lengthAdjust="spacingAndGlyphs">660</text>
<text x="182.7" y="456" font-family='"Liberation Serif", serif' font-size="15" fill="#333" text-anchor="middle" font-style="italic">t</text>
<line x1="106.1" y1="366" x2="106.1" y2="417.3" stroke="#00B050" stroke-width="2.5"/>
<line x1="116" y1="366" x2="116" y2="417.3" stroke="#00B050" stroke-width="2.5"/>
<line x1="124.7" y1="366" x2="124.7" y2="417.3" stroke="#00B050" stroke-width="2.5"/>
<line x1="134" y1="366" x2="134" y2="417.3" stroke="#00B050" stroke-width="2.5"/>
<line x1="144.5" y1="366" x2="144.5" y2="417.3" stroke="#00B050" stroke-width="2.5"/>
<line x1="153.2" y1="366" x2="153.2" y2="417.3" stroke="#00B050" stroke-width="2.5"/>
<line x1="162.5" y1="366" x2="162.5" y2="417.3" stroke="#00B050" stroke-width="2.5"/>
<line x1="172.9" y1="366" x2="172.9" y2="417.3" stroke="#00B050" stroke-width="2.5"/>
<line x1="183" y1="366" x2="183" y2="417.3" stroke="#00B050" stroke-width="2.5"/>
<line x1="191.2" y1="366" x2="191.2" y2="417.3" stroke="#00B050" stroke-width="2.5"/>
<line x1="201.6" y1="366" x2="201.6" y2="417.3" stroke="#00B050" stroke-width="2.5"/>
<line x1="211.7" y1="366" x2="211.7" y2="417.3" stroke="#00B050" stroke-width="2.5"/>
<line x1="220" y1="366" x2="220" y2="417.3" stroke="#00B050" stroke-width="2.5"/>
<line x1="230.4" y1="366" x2="230.4" y2="417.3" stroke="#00B050" stroke-width="2.5"/>
<line x1="240.4" y1="366" x2="240.4" y2="417.3" stroke="#00B050" stroke-width="2.5"/>
<line x1="248.8" y1="366" x2="248.8" y2="417.3" stroke="#00B050" stroke-width="2.5"/>
<line x1="258.8" y1="366" x2="258.8" y2="417.3" stroke="#00B050" stroke-width="2.5"/>
<line x1="269.3" y1="366" x2="269.3" y2="417.3" stroke="#00B050" stroke-width="2.5"/>
<rect x="66.2" y="362.9" width="2.4" height="4.4" fill="#FF0000"/>
<rect x="97.7" y="362.9" width="2.4" height="4.4" fill="#FF0000"/>
<rect x="124.3" y="362.9" width="2.4" height="4.4" fill="#FF0000"/>
<rect x="133.4" y="362.9" width="2.4" height="4.4" fill="#FF0000"/>
<rect x="159.4" y="362.9" width="2.4" height="4.4" fill="#FF0000"/>
<rect x="181.8" y="362.9" width="2.4" height="4.4" fill="#FF0000"/>
<rect x="195.1" y="362.9" width="2.4" height="4.4" fill="#FF0000"/>
<rect x="218.5" y="362.9" width="2.4" height="4.4" fill="#FF0000"/>
<rect x="239.8" y="362.9" width="2.4" height="4.4" fill="#FF0000"/>
<rect x="257.1" y="362.9" width="2.4" height="4.4" fill="#FF0000"/>
<line x1="63.5" y1="374" x2="63.5" y2="392.4" stroke="#00B050" stroke-width="2.3"/>
<line x1="64.1" y1="399.5" x2="64.1" y2="408.7" stroke="#00B050" stroke-width="2.3"/>
<line x1="69.3" y1="366.5" x2="69.1" y2="374.8" stroke="#00B050" stroke-width="2.3"/>
<line x1="70.2" y1="391" x2="70" y2="400.2" stroke="#00B050" stroke-width="2.3"/>
<line x1="68.8" y1="408.2" x2="68.6" y2="417.2" stroke="#00B050" stroke-width="2.3"/>
<path d="M63.7 418.1 C65.8 417.2 67.8 418.6 66.9 421 C66.2 423 63.4 423.5 63.7 425.5 C64 426.9 65.4 427.6 66.5 427.6" fill="none" stroke="#000" stroke-width="2" stroke-linecap="round"/>
<path d="M72.5 418.1 C74.6 417.2 76.6 418.6 75.7 421 C75 423 72.2 423.5 72.5 425.5 C72.8 426.9 74.2 427.6 75.3 427.6" fill="none" stroke="#000" stroke-width="2" stroke-linecap="round"/>
<text x="18.4" y="467.3" font-family='"Liberation Sans", sans-serif' font-size="15.3" fill="#000" textLength="15.4" lengthAdjust="spacingAndGlyphs" stroke="#000" stroke-width="0.3">e1</text>
<text x="11.6" y="535.6" font-family='"Liberation Sans", sans-serif' font-size="15.3" fill="#000" textLength="77" lengthAdjust="spacingAndGlyphs" transform="rotate(-90 11.6 535.6)" stroke="#000" stroke-width="0.3">Parenchyma</text>
<text x="11.6" y="603" font-family='"Liberation Sans", sans-serif' font-size="15.3" fill="#000" textLength="52.5" lengthAdjust="spacingAndGlyphs" transform="rotate(-90 11.6 603)" stroke="#000" stroke-width="0.3">Immune</text>
<text x="33.6" y="495.9" font-family='"Liberation Serif", serif' font-size="13.5" fill="#454545" text-anchor="middle">j</text>
<rect x="63.6" y="469.7" width="239.1" height="58.7" fill="none" stroke="#878787" stroke-width="1.05"/>
<text x="57.6" y="475.3" font-family='"Liberation Sans", sans-serif' font-size="12" fill="#262626" text-anchor="end" textLength="21.02" lengthAdjust="spacingAndGlyphs">200</text>
<line x1="63.6" y1="471.1" x2="65.4" y2="471.1" stroke="#878787" stroke-width="1.05"/>
<line x1="302.7" y1="471.1" x2="300.9" y2="471.1" stroke="#878787" stroke-width="1.05"/>
<text x="57.6" y="503.8" font-family='"Liberation Sans", sans-serif' font-size="12" fill="#262626" text-anchor="end" textLength="21.02" lengthAdjust="spacingAndGlyphs">100</text>
<line x1="63.6" y1="499.6" x2="65.4" y2="499.6" stroke="#878787" stroke-width="1.05"/>
<line x1="302.7" y1="499.6" x2="300.9" y2="499.6" stroke="#878787" stroke-width="1.05"/>
<text x="57.6" y="532.6" font-family='"Liberation Sans", sans-serif' font-size="12" fill="#262626" text-anchor="end" textLength="7.01" lengthAdjust="spacingAndGlyphs">0</text>
<line x1="63.6" y1="528.4" x2="65.4" y2="528.4" stroke="#878787" stroke-width="1.05"/>
<line x1="302.7" y1="528.4" x2="300.9" y2="528.4" stroke="#878787" stroke-width="1.05"/>
<line x1="123.2" y1="528.4" x2="123.2" y2="526.6" stroke="#878787" stroke-width="1.05"/>
<line x1="123.2" y1="469.7" x2="123.2" y2="471.5" stroke="#878787" stroke-width="1.05"/>
<line x1="182.6" y1="528.4" x2="182.6" y2="526.6" stroke="#878787" stroke-width="1.05"/>
<line x1="182.6" y1="469.7" x2="182.6" y2="471.5" stroke="#878787" stroke-width="1.05"/>
<line x1="242" y1="528.4" x2="242" y2="526.6" stroke="#878787" stroke-width="1.05"/>
<line x1="242" y1="469.7" x2="242" y2="471.5" stroke="#878787" stroke-width="1.05"/>
<text x="17.6" y="544" font-family='"Liberation Sans", sans-serif' font-size="15.3" fill="#000" textLength="15" lengthAdjust="spacingAndGlyphs" stroke="#000" stroke-width="0.3">e2</text>
<text x="33.6" y="567.9" font-family='"Liberation Serif", serif' font-size="13.5" fill="#454545" text-anchor="middle">j</text>
<text x="183.1" y="546.6" font-family='"Liberation Serif", serif' font-size="15" fill="#454545" text-anchor="middle" font-style="italic">t</text>
<rect x="63.6" y="541.5" width="238.9" height="58.7" fill="#fff"/>
<rect x="63.6" y="541.5" width="238.9" height="58.7" fill="none" stroke="#878787" stroke-width="1.05"/>
<text x="57.6" y="551.8" font-family='"Liberation Sans", sans-serif' font-size="12" fill="#262626" text-anchor="end" textLength="21.02" lengthAdjust="spacingAndGlyphs">200</text>
<line x1="63.6" y1="547.6" x2="65.4" y2="547.6" stroke="#878787" stroke-width="1.05"/>
<line x1="302.5" y1="547.6" x2="300.7" y2="547.6" stroke="#878787" stroke-width="1.05"/>
<text x="57.6" y="578.2" font-family='"Liberation Sans", sans-serif' font-size="12" fill="#262626" text-anchor="end" textLength="21.02" lengthAdjust="spacingAndGlyphs">100</text>
<line x1="63.6" y1="574" x2="65.4" y2="574" stroke="#878787" stroke-width="1.05"/>
<line x1="302.5" y1="574" x2="300.7" y2="574" stroke="#878787" stroke-width="1.05"/>
<text x="57.6" y="604.4" font-family='"Liberation Sans", sans-serif' font-size="12" fill="#262626" text-anchor="end" textLength="7.01" lengthAdjust="spacingAndGlyphs">0</text>
<line x1="63.6" y1="600.2" x2="65.4" y2="600.2" stroke="#878787" stroke-width="1.05"/>
<line x1="302.5" y1="600.2" x2="300.7" y2="600.2" stroke="#878787" stroke-width="1.05"/>
<line x1="123.2" y1="600.2" x2="123.2" y2="598.4" stroke="#878787" stroke-width="1.05"/>
<line x1="123.2" y1="541.5" x2="123.2" y2="543.3" stroke="#878787" stroke-width="1.05"/>
<line x1="182.6" y1="600.2" x2="182.6" y2="598.4" stroke="#878787" stroke-width="1.05"/>
<line x1="182.6" y1="541.5" x2="182.6" y2="543.3" stroke="#878787" stroke-width="1.05"/>
<line x1="242" y1="600.2" x2="242" y2="598.4" stroke="#878787" stroke-width="1.05"/>
<line x1="242" y1="541.5" x2="242" y2="543.3" stroke="#878787" stroke-width="1.05"/>
<text x="63.7" y="617.6" font-family='"Liberation Sans", sans-serif' font-size="12" fill="#262626" text-anchor="middle" textLength="6.95" lengthAdjust="spacingAndGlyphs">0</text>
<text x="123.6" y="617.6" font-family='"Liberation Sans", sans-serif' font-size="12" fill="#262626" text-anchor="middle" textLength="20.85" lengthAdjust="spacingAndGlyphs">510</text>
<text x="183.2" y="617.6" font-family='"Liberation Sans", sans-serif' font-size="12" fill="#262626" text-anchor="middle" textLength="20.85" lengthAdjust="spacingAndGlyphs">560</text>
<text x="243.2" y="617.6" font-family='"Liberation Sans", sans-serif' font-size="12" fill="#262626" text-anchor="middle" textLength="20.85" lengthAdjust="spacingAndGlyphs">610</text>
<text x="303" y="617.6" font-family='"Liberation Sans", sans-serif' font-size="12" fill="#262626" text-anchor="middle" textLength="20.85" lengthAdjust="spacingAndGlyphs">660</text>
<text x="182.7" y="633.4" font-family='"Liberation Serif", serif' font-size="15" fill="#333" text-anchor="middle" font-style="italic">t</text>
<path d="M90.3 597.8 C92.4 596.9 94.4 598.3 93.5 600.7 C92.8 602.7 90 603.2 90.3 605.2 C90.6 606.6 92 607.3 93.1 607.3" fill="none" stroke="#000" stroke-width="2" stroke-linecap="round"/>
<path d="M99 597.8 C101.1 596.9 103.1 598.3 102.2 600.7 C101.5 602.7 98.7 603.2 99 605.2 C99.3 606.6 100.7 607.3 101.8 607.3" fill="none" stroke="#000" stroke-width="2" stroke-linecap="round"/>
<rect x="137.75" y="523.7" width="2.3" height="5.4" fill="#00B050" rx="1.1"/>
<rect x="148.85" y="519.97" width="2.3" height="5.4" fill="#00B050" rx="1.1"/>
<rect x="141.35" y="516.24" width="2.3" height="5.4" fill="#00B050" rx="1.1"/>
<rect x="142.05" y="512.51" width="2.3" height="5.4" fill="#00B050" rx="1.1"/>
<rect x="147.85" y="508.78" width="2.3" height="5.4" fill="#00B050" rx="1.1"/>
<rect x="135.55" y="505.05" width="2.3" height="5.4" fill="#00B050" rx="1.1"/>
<rect x="127.95" y="501.32" width="2.3" height="5.4" fill="#00B050" rx="1.1"/>
<rect x="131.95" y="497.59" width="2.3" height="5.4" fill="#00B050" rx="1.1"/>
<rect x="127.35" y="493.86" width="2.3" height="5.4" fill="#00B050" rx="1.1"/>
<rect x="135.05" y="490.13" width="2.3" height="5.4" fill="#00B050" rx="1.1"/>
<rect x="153.05" y="486.4" width="2.3" height="5.4" fill="#00B050" rx="1.1"/>
<rect x="151.85" y="482.67" width="2.3" height="5.4" fill="#00B050" rx="1.1"/>
<rect x="158.15" y="478.94" width="2.3" height="5.4" fill="#00B050" rx="1.1"/>
<rect x="155.35" y="475.21" width="2.3" height="5.4" fill="#00B050" rx="1.1"/>
<rect x="144.25" y="471.48" width="2.3" height="5.4" fill="#00B050" rx="1.1"/>
<rect x="169.85" y="523.7" width="2.3" height="5.4" fill="#00B050" rx="1.1"/>
<rect x="180.95" y="519.97" width="2.3" height="5.4" fill="#00B050" rx="1.1"/>
<rect x="173.45" y="516.24" width="2.3" height="5.4" fill="#00B050" rx="1.1"/>
<rect x="174.15" y="512.51" width="2.3" height="5.4" fill="#00B050" rx="1.1"/>
<rect x="179.95" y="508.78" width="2.3" height="5.4" fill="#00B050" rx="1.1"/>
<rect x="167.65" y="505.05" width="2.3" height="5.4" fill="#00B050" rx="1.1"/>
<rect x="160.05" y="501.32" width="2.3" height="5.4" fill="#00B050" rx="1.1"/>
<rect x="164.05" y="497.59" width="2.3" height="5.4" fill="#00B050" rx="1.1"/>
<rect x="159.45" y="493.86" width="2.3" height="5.4" fill="#00B050" rx="1.1"/>
<rect x="167.15" y="490.13" width="2.3" height="5.4" fill="#00B050" rx="1.1"/>
<rect x="185.15" y="486.4" width="2.3" height="5.4" fill="#00B050" rx="1.1"/>
<rect x="183.95" y="482.67" width="2.3" height="5.4" fill="#00B050" rx="1.1"/>
<rect x="190.25" y="478.94" width="2.3" height="5.4" fill="#00B050" rx="1.1"/>
<rect x="187.45" y="475.21" width="2.3" height="5.4" fill="#00B050" rx="1.1"/>
<rect x="176.35" y="471.48" width="2.3" height="5.4" fill="#00B050" rx="1.1"/>
<rect x="203.75" y="523.7" width="2.3" height="5.4" fill="#00B050" rx="1.1"/>
<rect x="214.85" y="519.97" width="2.3" height="5.4" fill="#00B050" rx="1.1"/>
<rect x="207.35" y="516.24" width="2.3" height="5.4" fill="#00B050" rx="1.1"/>
<rect x="208.05" y="512.51" width="2.3" height="5.4" fill="#00B050" rx="1.1"/>
<rect x="213.85" y="508.78" width="2.3" height="5.4" fill="#00B050" rx="1.1"/>
<rect x="201.55" y="505.05" width="2.3" height="5.4" fill="#00B050" rx="1.1"/>
<rect x="193.95" y="501.32" width="2.3" height="5.4" fill="#00B050" rx="1.1"/>
<rect x="197.95" y="497.59" width="2.3" height="5.4" fill="#00B050" rx="1.1"/>
<rect x="193.35" y="493.86" width="2.3" height="5.4" fill="#00B050" rx="1.1"/>
<rect x="201.05" y="490.13" width="2.3" height="5.4" fill="#00B050" rx="1.1"/>
<rect x="219.05" y="486.4" width="2.3" height="5.4" fill="#00B050" rx="1.1"/>
<rect x="217.85" y="482.67" width="2.3" height="5.4" fill="#00B050" rx="1.1"/>
<rect x="224.15" y="478.94" width="2.3" height="5.4" fill="#00B050" rx="1.1"/>
<rect x="221.35" y="475.21" width="2.3" height="5.4" fill="#00B050" rx="1.1"/>
<rect x="210.25" y="471.48" width="2.3" height="5.4" fill="#00B050" rx="1.1"/>
<rect x="237.65" y="523.7" width="2.3" height="5.4" fill="#00B050" rx="1.1"/>
<rect x="248.75" y="519.97" width="2.3" height="5.4" fill="#00B050" rx="1.1"/>
<rect x="241.25" y="516.24" width="2.3" height="5.4" fill="#00B050" rx="1.1"/>
<rect x="241.95" y="512.51" width="2.3" height="5.4" fill="#00B050" rx="1.1"/>
<rect x="247.75" y="508.78" width="2.3" height="5.4" fill="#00B050" rx="1.1"/>
<rect x="235.45" y="505.05" width="2.3" height="5.4" fill="#00B050" rx="1.1"/>
<rect x="227.85" y="501.32" width="2.3" height="5.4" fill="#00B050" rx="1.1"/>
<rect x="231.85" y="497.59" width="2.3" height="5.4" fill="#00B050" rx="1.1"/>
<rect x="227.25" y="493.86" width="2.3" height="5.4" fill="#00B050" rx="1.1"/>
<rect x="234.95" y="490.13" width="2.3" height="5.4" fill="#00B050" rx="1.1"/>
<rect x="252.95" y="486.4" width="2.3" height="5.4" fill="#00B050" rx="1.1"/>
<rect x="251.75" y="482.67" width="2.3" height="5.4" fill="#00B050" rx="1.1"/>
<rect x="258.05" y="478.94" width="2.3" height="5.4" fill="#00B050" rx="1.1"/>
<rect x="255.25" y="475.21" width="2.3" height="5.4" fill="#00B050" rx="1.1"/>
<rect x="244.15" y="471.48" width="2.3" height="5.4" fill="#00B050" rx="1.1"/>
<rect x="271.75" y="523.7" width="2.3" height="5.4" fill="#00B050" rx="1.1"/>
<rect x="282.85" y="519.97" width="2.3" height="5.4" fill="#00B050" rx="1.1"/>
<rect x="275.35" y="516.24" width="2.3" height="5.4" fill="#00B050" rx="1.1"/>
<rect x="276.05" y="512.51" width="2.3" height="5.4" fill="#00B050" rx="1.1"/>
<rect x="281.85" y="508.78" width="2.3" height="5.4" fill="#00B050" rx="1.1"/>
<rect x="269.55" y="505.05" width="2.3" height="5.4" fill="#00B050" rx="1.1"/>
<rect x="261.95" y="501.32" width="2.3" height="5.4" fill="#00B050" rx="1.1"/>
<rect x="265.95" y="497.59" width="2.3" height="5.4" fill="#00B050" rx="1.1"/>
<rect x="261.35" y="493.86" width="2.3" height="5.4" fill="#00B050" rx="1.1"/>
<rect x="269.05" y="490.13" width="2.3" height="5.4" fill="#00B050" rx="1.1"/>
<rect x="287.05" y="486.4" width="2.3" height="5.4" fill="#00B050" rx="1.1"/>
<rect x="285.85" y="482.67" width="2.3" height="5.4" fill="#00B050" rx="1.1"/>
<rect x="289.35" y="475.21" width="2.3" height="5.4" fill="#00B050" rx="1.1"/>
<rect x="278.25" y="471.48" width="2.3" height="5.4" fill="#00B050" rx="1.1"/>
<rect x="137.75" y="590.45" width="2.3" height="5.1" fill="#00B050" rx="1.1"/>
<rect x="148.85" y="587.02" width="2.3" height="5.1" fill="#00B050" rx="1.1"/>
<rect x="141.35" y="583.59" width="2.3" height="5.1" fill="#00B050" rx="1.1"/>
<rect x="142.05" y="580.16" width="2.3" height="5.1" fill="#00B050" rx="1.1"/>
<rect x="147.85" y="576.73" width="2.3" height="5.1" fill="#00B050" rx="1.1"/>
<rect x="135.55" y="573.3" width="2.3" height="5.1" fill="#00B050" rx="1.1"/>
<rect x="127.95" y="569.87" width="2.3" height="5.1" fill="#00B050" rx="1.1"/>
<rect x="131.95" y="566.44" width="2.3" height="5.1" fill="#00B050" rx="1.1"/>
<rect x="127.35" y="563.01" width="2.3" height="5.1" fill="#00B050" rx="1.1"/>
<rect x="135.05" y="559.58" width="2.3" height="5.1" fill="#00B050" rx="1.1"/>
<rect x="153.05" y="556.15" width="2.3" height="5.1" fill="#00B050" rx="1.1"/>
<rect x="151.85" y="552.72" width="2.3" height="5.1" fill="#00B050" rx="1.1"/>
<rect x="158.15" y="549.29" width="2.3" height="5.1" fill="#00B050" rx="1.1"/>
<rect x="155.35" y="545.86" width="2.3" height="5.1" fill="#00B050" rx="1.1"/>
<rect x="144.25" y="542.43" width="2.3" height="5.1" fill="#00B050" rx="1.1"/>
<rect x="169.85" y="590.45" width="2.3" height="5.1" fill="#00B050" rx="1.1"/>
<rect x="180.95" y="587.02" width="2.3" height="5.1" fill="#00B050" rx="1.1"/>
<rect x="173.45" y="583.59" width="2.3" height="5.1" fill="#00B050" rx="1.1"/>
<rect x="174.15" y="580.16" width="2.3" height="5.1" fill="#00B050" rx="1.1"/>
<rect x="179.95" y="576.73" width="2.3" height="5.1" fill="#00B050" rx="1.1"/>
<rect x="167.65" y="573.3" width="2.3" height="5.1" fill="#00B050" rx="1.1"/>
<rect x="160.05" y="569.87" width="2.3" height="5.1" fill="#00B050" rx="1.1"/>
<rect x="164.05" y="566.44" width="2.3" height="5.1" fill="#00B050" rx="1.1"/>
<rect x="159.45" y="563.01" width="2.3" height="5.1" fill="#00B050" rx="1.1"/>
<rect x="167.15" y="559.58" width="2.3" height="5.1" fill="#00B050" rx="1.1"/>
<rect x="185.15" y="556.15" width="2.3" height="5.1" fill="#00B050" rx="1.1"/>
<rect x="183.95" y="552.72" width="2.3" height="5.1" fill="#00B050" rx="1.1"/>
<rect x="190.25" y="549.29" width="2.3" height="5.1" fill="#00B050" rx="1.1"/>
<rect x="187.45" y="545.86" width="2.3" height="5.1" fill="#00B050" rx="1.1"/>
<rect x="176.35" y="542.43" width="2.3" height="5.1" fill="#00B050" rx="1.1"/>
<rect x="203.75" y="590.45" width="2.3" height="5.1" fill="#00B050" rx="1.1"/>
<rect x="214.85" y="587.02" width="2.3" height="5.1" fill="#00B050" rx="1.1"/>
<rect x="207.35" y="583.59" width="2.3" height="5.1" fill="#00B050" rx="1.1"/>
<rect x="208.05" y="580.16" width="2.3" height="5.1" fill="#00B050" rx="1.1"/>
<rect x="213.85" y="576.73" width="2.3" height="5.1" fill="#00B050" rx="1.1"/>
<rect x="201.55" y="573.3" width="2.3" height="5.1" fill="#00B050" rx="1.1"/>
<rect x="193.95" y="569.87" width="2.3" height="5.1" fill="#00B050" rx="1.1"/>
<rect x="197.95" y="566.44" width="2.3" height="5.1" fill="#00B050" rx="1.1"/>
<rect x="193.35" y="563.01" width="2.3" height="5.1" fill="#00B050" rx="1.1"/>
<rect x="201.05" y="559.58" width="2.3" height="5.1" fill="#00B050" rx="1.1"/>
<rect x="219.05" y="556.15" width="2.3" height="5.1" fill="#00B050" rx="1.1"/>
<rect x="217.85" y="552.72" width="2.3" height="5.1" fill="#00B050" rx="1.1"/>
<rect x="224.15" y="549.29" width="2.3" height="5.1" fill="#00B050" rx="1.1"/>
<rect x="221.35" y="545.86" width="2.3" height="5.1" fill="#00B050" rx="1.1"/>
<rect x="210.25" y="542.43" width="2.3" height="5.1" fill="#00B050" rx="1.1"/>
<rect x="237.65" y="590.45" width="2.3" height="5.1" fill="#00B050" rx="1.1"/>
<rect x="248.75" y="587.02" width="2.3" height="5.1" fill="#00B050" rx="1.1"/>
<rect x="241.25" y="583.59" width="2.3" height="5.1" fill="#00B050" rx="1.1"/>
<rect x="241.95" y="580.16" width="2.3" height="5.1" fill="#00B050" rx="1.1"/>
<rect x="247.75" y="576.73" width="2.3" height="5.1" fill="#00B050" rx="1.1"/>
<rect x="235.45" y="573.3" width="2.3" height="5.1" fill="#00B050" rx="1.1"/>
<rect x="227.85" y="569.87" width="2.3" height="5.1" fill="#00B050" rx="1.1"/>
<rect x="231.85" y="566.44" width="2.3" height="5.1" fill="#00B050" rx="1.1"/>
<rect x="227.25" y="563.01" width="2.3" height="5.1" fill="#00B050" rx="1.1"/>
<rect x="234.95" y="559.58" width="2.3" height="5.1" fill="#00B050" rx="1.1"/>
<rect x="252.95" y="556.15" width="2.3" height="5.1" fill="#00B050" rx="1.1"/>
<rect x="251.75" y="552.72" width="2.3" height="5.1" fill="#00B050" rx="1.1"/>
<rect x="258.05" y="549.29" width="2.3" height="5.1" fill="#00B050" rx="1.1"/>
<rect x="255.25" y="545.86" width="2.3" height="5.1" fill="#00B050" rx="1.1"/>
<rect x="244.15" y="542.43" width="2.3" height="5.1" fill="#00B050" rx="1.1"/>
<rect x="271.75" y="590.45" width="2.3" height="5.1" fill="#00B050" rx="1.1"/>
<rect x="282.85" y="587.02" width="2.3" height="5.1" fill="#00B050" rx="1.1"/>
<rect x="275.35" y="583.59" width="2.3" height="5.1" fill="#00B050" rx="1.1"/>
<rect x="276.05" y="580.16" width="2.3" height="5.1" fill="#00B050" rx="1.1"/>
<rect x="281.85" y="576.73" width="2.3" height="5.1" fill="#00B050" rx="1.1"/>
<rect x="269.55" y="573.3" width="2.3" height="5.1" fill="#00B050" rx="1.1"/>
<rect x="261.95" y="569.87" width="2.3" height="5.1" fill="#00B050" rx="1.1"/>
<rect x="265.95" y="566.44" width="2.3" height="5.1" fill="#00B050" rx="1.1"/>
<rect x="261.35" y="563.01" width="2.3" height="5.1" fill="#00B050" rx="1.1"/>
<rect x="269.05" y="559.58" width="2.3" height="5.1" fill="#00B050" rx="1.1"/>
<rect x="287.05" y="556.15" width="2.3" height="5.1" fill="#00B050" rx="1.1"/>
<rect x="285.85" y="552.72" width="2.3" height="5.1" fill="#00B050" rx="1.1"/>
<rect x="289.35" y="545.86" width="2.3" height="5.1" fill="#00B050" rx="1.1"/>
<rect x="278.25" y="542.43" width="2.3" height="5.1" fill="#00B050" rx="1.1"/>
<rect x="66.65" y="477.9" width="2.3" height="5.4" fill="#00B050" rx="1.1"/>
<rect x="70.95" y="482.1" width="2.3" height="5.4" fill="#00B050" rx="1.1"/>
<rect x="75.15" y="471.9" width="2.3" height="5.4" fill="#00B050" rx="1.1"/>
<rect x="77.05" y="474.1" width="2.3" height="5.4" fill="#00B050" rx="1.1"/>
<rect x="72.85" y="501.3" width="2.3" height="5.4" fill="#00B050" rx="1.1"/>
<rect x="81.45" y="489.3" width="2.3" height="5.4" fill="#00B050" rx="1.1"/>
<rect x="85.55" y="493.1" width="2.3" height="5.4" fill="#00B050" rx="1.1"/>
<rect x="91.85" y="485.5" width="2.3" height="5.4" fill="#00B050" rx="1.1"/>
<rect x="93.75" y="496.9" width="2.3" height="5.4" fill="#00B050" rx="1.1"/>
<rect x="96.05" y="504.5" width="2.3" height="5.4" fill="#00B050" rx="1.1"/>
<rect x="87.65" y="508.7" width="2.3" height="5.4" fill="#00B050" rx="1.1"/>
<rect x="89.55" y="512.1" width="2.3" height="5.4" fill="#00B050" rx="1.1"/>
<rect x="83.35" y="516.4" width="2.3" height="5.4" fill="#00B050" rx="1.1"/>
<rect x="68.65" y="520.1" width="2.3" height="5.4" fill="#00B050" rx="1.1"/>
<rect x="64.75" y="523.9" width="2.3" height="5.4" fill="#00B050" rx="1.1"/>
<rect x="67.15" y="551.85" width="2.3" height="5.1" fill="#00B050" rx="1.1"/>
<rect x="76.05" y="548.65" width="2.3" height="5.1" fill="#00B050" rx="1.1"/>
<rect x="87.65" y="542.35" width="2.3" height="5.1" fill="#00B050" rx="1.1"/>
<rect x="93.35" y="545.25" width="2.3" height="5.1" fill="#00B050" rx="1.1"/>
<rect x="94.35" y="555.65" width="2.3" height="5.1" fill="#00B050" rx="1.1"/>
<rect x="91.25" y="559.05" width="2.3" height="5.1" fill="#00B050" rx="1.1"/>
<rect x="76.05" y="562.65" width="2.3" height="5.1" fill="#00B050" rx="1.1"/>
<rect x="70.35" y="568.45" width="2.3" height="5.1" fill="#00B050" rx="1.1"/>
<rect x="85.25" y="573.35" width="2.3" height="5.1" fill="#00B050" rx="1.1"/>
<rect x="64.55" y="578.45" width="2.3" height="5.1" fill="#00B050" rx="1.1"/>
<rect x="87.65" y="583.55" width="2.3" height="5.1" fill="#00B050" rx="1.1"/>
<rect x="67.75" y="586.95" width="2.3" height="5.1" fill="#00B050" rx="1.1"/>
<rect x="82.35" y="590.35" width="2.3" height="5.1" fill="#00B050" rx="1.1"/>
<rect x="129.8" y="469.3" width="2.2" height="4.9" fill="#FF0000"/>
<rect x="137.32" y="469.3" width="2.2" height="4.9" fill="#FF0000"/>
<rect x="144.84" y="469.3" width="2.2" height="4.9" fill="#FF0000"/>
<rect x="152.36" y="469.3" width="2.2" height="4.9" fill="#FF0000"/>
<rect x="159.88" y="469.3" width="2.2" height="4.9" fill="#FF0000"/>
<rect x="167.4" y="469.3" width="2.2" height="4.9" fill="#FF0000"/>
<rect x="174.92" y="469.3" width="2.2" height="4.9" fill="#FF0000"/>
<rect x="182.44" y="469.3" width="2.2" height="4.9" fill="#FF0000"/>
<rect x="189.96" y="469.3" width="2.2" height="4.9" fill="#FF0000"/>
<rect x="197.48" y="469.3" width="2.2" height="4.9" fill="#FF0000"/>
<rect x="205" y="469.3" width="2.2" height="4.9" fill="#FF0000"/>
<rect x="212.52" y="469.3" width="2.2" height="4.9" fill="#FF0000"/>
<rect x="220.04" y="469.3" width="2.2" height="4.9" fill="#FF0000"/>
<rect x="227.56" y="469.3" width="2.2" height="4.9" fill="#FF0000"/>
<rect x="235.08" y="469.3" width="2.2" height="4.9" fill="#FF0000"/>
<rect x="242.6" y="469.3" width="2.2" height="4.9" fill="#FF0000"/>
<rect x="250.12" y="469.3" width="2.2" height="4.9" fill="#FF0000"/>
<rect x="257.64" y="469.3" width="2.2" height="4.9" fill="#FF0000"/>
<rect x="265.16" y="469.3" width="2.2" height="4.9" fill="#FF0000"/>
<rect x="272.68" y="469.3" width="2.2" height="4.9" fill="#FF0000"/>
<rect x="280.2" y="469.3" width="2.2" height="4.9" fill="#FF0000"/>
<rect x="287.72" y="469.3" width="2.2" height="4.9" fill="#FF0000"/>
<rect x="66.3" y="469.3" width="2.2" height="4.9" fill="#FF0000"/>
<rect x="66.3" y="541" width="2.2" height="4.5" fill="#FF0000"/>
<rect x="132.3" y="541" width="2.2" height="4.5" fill="#FF0000"/>
<rect x="155.3" y="541" width="2.2" height="4.5" fill="#FF0000"/>
<rect x="178.7" y="541" width="2.2" height="4.5" fill="#FF0000"/>
<rect x="204.6" y="541" width="2.2" height="4.5" fill="#FF0000"/>
<rect x="227.7" y="541" width="2.2" height="4.5" fill="#FF0000"/>
<rect x="250.9" y="541" width="2.2" height="4.5" fill="#FF0000"/>
<rect x="273.9" y="541" width="2.2" height="4.5" fill="#FF0000"/>
<text x="331.8" y="288.7" font-family='"Liberation Sans", sans-serif' font-size="15.3" fill="#000" textLength="15" lengthAdjust="spacingAndGlyphs" stroke="#000" stroke-width="0.3">d3</text>
<rect x="366.5" y="291.3" width="117.8" height="59.1" fill="none" stroke="#878787" stroke-width="1.05"/>
<text x="360.3" y="295.9" font-family='"Liberation Sans", sans-serif' font-size="12" fill="#262626" text-anchor="end" textLength="7.01" lengthAdjust="spacingAndGlyphs">2</text>
<text x="360.3" y="325.75" font-family='"Liberation Sans", sans-serif' font-size="12" fill="#262626" text-anchor="end" textLength="7.01" lengthAdjust="spacingAndGlyphs">1</text>
<text x="360.3" y="355.2" font-family='"Liberation Sans", sans-serif' font-size="12" fill="#262626" text-anchor="end" textLength="7.01" lengthAdjust="spacingAndGlyphs">0</text>
<line x1="366.5" y1="291.3" x2="368.3" y2="291.3" stroke="#878787" stroke-width="1.05"/>
<line x1="484.3" y1="291.3" x2="482.5" y2="291.3" stroke="#878787" stroke-width="1.05"/>
<line x1="366.5" y1="321.15" x2="368.3" y2="321.15" stroke="#878787" stroke-width="1.05"/>
<line x1="484.3" y1="321.15" x2="482.5" y2="321.15" stroke="#878787" stroke-width="1.05"/>
<line x1="366.5" y1="350.4" x2="368.3" y2="350.4" stroke="#878787" stroke-width="1.05"/>
<line x1="484.3" y1="350.4" x2="482.5" y2="350.4" stroke="#878787" stroke-width="1.05"/>
<line x1="366.5" y1="311.3" x2="476.3" y2="311.3" stroke="#00B050" stroke-width="1.6"/>
<line x1="476.3" y1="311.3" x2="483.6" y2="311.3" stroke="#FF0000" stroke-width="1.6"/>
<text x="339.1" y="315.95" font-family='"Liberation Serif", serif' font-size="13.5" fill="#454545" font-style="italic">ϕ</text>
<circle cx="344.3" cy="303.15" r="0.75" fill="#454545"/>
<text x="347.4" y="307.35" font-family='"Liberation Serif", serif' font-size="9.3" fill="#454545">(1)</text>
<text x="347.9" y="319.15" font-family='"Liberation Serif", serif' font-size="8.8" fill="#454545" font-style="italic">j</text>
<line x1="425.1" y1="350.4" x2="425.1" y2="348.6" stroke="#878787" stroke-width="1.05"/>
<line x1="425.1" y1="291.3" x2="425.1" y2="293.1" stroke="#878787" stroke-width="1.05"/>
<text x="330.5" y="365.8" font-family='"Liberation Sans", sans-serif' font-size="15.3" fill="#000" textLength="15.8" lengthAdjust="spacingAndGlyphs" stroke="#000" stroke-width="0.3">d4</text>
<rect x="366.5" y="363.1" width="117.8" height="59.2" fill="none" stroke="#878787" stroke-width="1.05"/>
<text x="360.3" y="367.7" font-family='"Liberation Sans", sans-serif' font-size="12" fill="#262626" text-anchor="end" textLength="7.01" lengthAdjust="spacingAndGlyphs">2</text>
<text x="360.3" y="397.6" font-family='"Liberation Sans", sans-serif' font-size="12" fill="#262626" text-anchor="end" textLength="7.01" lengthAdjust="spacingAndGlyphs">1</text>
<text x="360.3" y="427.1" font-family='"Liberation Sans", sans-serif' font-size="12" fill="#262626" text-anchor="end" textLength="7.01" lengthAdjust="spacingAndGlyphs">0</text>
<line x1="366.5" y1="363.1" x2="368.3" y2="363.1" stroke="#878787" stroke-width="1.05"/>
<line x1="484.3" y1="363.1" x2="482.5" y2="363.1" stroke="#878787" stroke-width="1.05"/>
<line x1="366.5" y1="393" x2="368.3" y2="393" stroke="#878787" stroke-width="1.05"/>
<line x1="484.3" y1="393" x2="482.5" y2="393" stroke="#878787" stroke-width="1.05"/>
<line x1="366.5" y1="422.3" x2="368.3" y2="422.3" stroke="#878787" stroke-width="1.05"/>
<line x1="484.3" y1="422.3" x2="482.5" y2="422.3" stroke="#878787" stroke-width="1.05"/>
<line x1="376.5" y1="399.1" x2="476.9" y2="399.1" stroke="#00B050" stroke-width="1.6"/>
<line x1="476.9" y1="411.5" x2="484" y2="411.5" stroke="#FF0000" stroke-width="1.6"/>
<text x="339.1" y="387.8" font-family='"Liberation Serif", serif' font-size="13.5" fill="#454545" font-style="italic">ϕ</text>
<circle cx="344.3" cy="375" r="0.75" fill="#454545"/>
<text x="347.4" y="379.2" font-family='"Liberation Serif", serif' font-size="9.3" fill="#454545">(2)</text>
<text x="347.9" y="391" font-family='"Liberation Serif", serif' font-size="8.8" fill="#454545" font-style="italic">j</text>
<text x="366.3" y="439.9" font-family='"Liberation Sans", sans-serif' font-size="12" fill="#262626" text-anchor="middle" textLength="7.01" lengthAdjust="spacingAndGlyphs">0</text>
<line x1="366.3" y1="422.3" x2="366.3" y2="420.5" stroke="#878787" stroke-width="1.05"/>
<line x1="366.3" y1="363.1" x2="366.3" y2="364.9" stroke="#878787" stroke-width="1.05"/>
<text x="419.8" y="439.9" font-family='"Liberation Sans", sans-serif' font-size="12" fill="#262626" text-anchor="middle" textLength="21.02" lengthAdjust="spacingAndGlyphs">100</text>
<line x1="419.8" y1="422.3" x2="419.8" y2="420.5" stroke="#878787" stroke-width="1.05"/>
<line x1="419.8" y1="363.1" x2="419.8" y2="364.9" stroke="#878787" stroke-width="1.05"/>
<text x="473.7" y="439.9" font-family='"Liberation Sans", sans-serif' font-size="12" fill="#262626" text-anchor="middle" textLength="21.02" lengthAdjust="spacingAndGlyphs">200</text>
<line x1="473.7" y1="422.3" x2="473.7" y2="420.5" stroke="#878787" stroke-width="1.05"/>
<line x1="473.7" y1="363.1" x2="473.7" y2="364.9" stroke="#878787" stroke-width="1.05"/>
<text x="424.9" y="455.3" font-family='"Liberation Serif", serif' font-size="15.4" fill="#333" text-anchor="middle" font-style="italic">j</text>
<text x="322.6" y="471" font-family='"Liberation Sans", sans-serif' font-size="15.3" fill="#000" textLength="15.3" lengthAdjust="spacingAndGlyphs" stroke="#000" stroke-width="0.3">e3</text>
<rect x="366.8" y="469.7" width="117.9" height="59.1" fill="none" stroke="#878787" stroke-width="1.05"/>
<text x="360.3" y="474.3" font-family='"Liberation Sans", sans-serif' font-size="12" fill="#262626" text-anchor="end" textLength="7.01" lengthAdjust="spacingAndGlyphs">2</text>
<text x="360.3" y="504.15" font-family='"Liberation Sans", sans-serif' font-size="12" fill="#262626" text-anchor="end" textLength="7.01" lengthAdjust="spacingAndGlyphs">1</text>
<text x="360.3" y="533.6" font-family='"Liberation Sans", sans-serif' font-size="12" fill="#262626" text-anchor="end" textLength="7.01" lengthAdjust="spacingAndGlyphs">0</text>
<line x1="366.8" y1="469.7" x2="368.6" y2="469.7" stroke="#878787" stroke-width="1.05"/>
<line x1="484.7" y1="469.7" x2="482.9" y2="469.7" stroke="#878787" stroke-width="1.05"/>
<line x1="366.8" y1="499.55" x2="368.6" y2="499.55" stroke="#878787" stroke-width="1.05"/>
<line x1="484.7" y1="499.55" x2="482.9" y2="499.55" stroke="#878787" stroke-width="1.05"/>
<line x1="366.8" y1="528.8" x2="368.6" y2="528.8" stroke="#878787" stroke-width="1.05"/>
<line x1="484.7" y1="528.8" x2="482.9" y2="528.8" stroke="#878787" stroke-width="1.05"/>
<line x1="366.8" y1="522.2" x2="477.6" y2="522.2" stroke="#00B050" stroke-width="1.6"/>
<line x1="477.6" y1="499.4" x2="484.7" y2="499.4" stroke="#FF0000" stroke-width="1.6"/>
<text x="340.6" y="494.35" font-family='"Liberation Serif", serif' font-size="13.5" fill="#454545" font-style="italic">ϕ</text>
<circle cx="345.8" cy="481.55" r="0.75" fill="#454545"/>
<text x="348.9" y="485.75" font-family='"Liberation Serif", serif' font-size="9.3" fill="#454545">(1)</text>
<text x="349.4" y="497.55" font-family='"Liberation Serif", serif' font-size="8.8" fill="#454545" font-style="italic">j</text>
<line x1="425.4" y1="528.8" x2="425.4" y2="527" stroke="#878787" stroke-width="1.05"/>
<line x1="425.4" y1="469.7" x2="425.4" y2="471.5" stroke="#878787" stroke-width="1.05"/>
<text x="321.3" y="548.1" font-family='"Liberation Sans", sans-serif' font-size="15.3" fill="#000" textLength="15.7" lengthAdjust="spacingAndGlyphs" stroke="#000" stroke-width="0.3">e4</text>
<rect x="366.8" y="541.3" width="117.9" height="59.1" fill="none" stroke="#878787" stroke-width="1.05"/>
<text x="360.3" y="545.9" font-family='"Liberation Sans", sans-serif' font-size="12" fill="#262626" text-anchor="end" textLength="7.01" lengthAdjust="spacingAndGlyphs">2</text>
<text x="360.3" y="575.75" font-family='"Liberation Sans", sans-serif' font-size="12" fill="#262626" text-anchor="end" textLength="7.01" lengthAdjust="spacingAndGlyphs">1</text>
<text x="360.3" y="605.2" font-family='"Liberation Sans", sans-serif' font-size="12" fill="#262626" text-anchor="end" textLength="7.01" lengthAdjust="spacingAndGlyphs">0</text>
<line x1="366.8" y1="541.3" x2="368.6" y2="541.3" stroke="#878787" stroke-width="1.05"/>
<line x1="484.7" y1="541.3" x2="482.9" y2="541.3" stroke="#878787" stroke-width="1.05"/>
<line x1="366.8" y1="571.15" x2="368.6" y2="571.15" stroke="#878787" stroke-width="1.05"/>
<line x1="484.7" y1="571.15" x2="482.9" y2="571.15" stroke="#878787" stroke-width="1.05"/>
<line x1="366.8" y1="600.4" x2="368.6" y2="600.4" stroke="#878787" stroke-width="1.05"/>
<line x1="484.7" y1="600.4" x2="482.9" y2="600.4" stroke="#878787" stroke-width="1.05"/>
<line x1="377.3" y1="593.8" x2="477.6" y2="593.8" stroke="#00B050" stroke-width="1.6"/>
<line x1="477.6" y1="590.7" x2="484.7" y2="590.7" stroke="#FF0000" stroke-width="1.6"/>
<text x="340.6" y="565.95" font-family='"Liberation Serif", serif' font-size="13.5" fill="#454545" font-style="italic">ϕ</text>
<circle cx="345.8" cy="553.15" r="0.75" fill="#454545"/>
<text x="348.9" y="557.35" font-family='"Liberation Serif", serif' font-size="9.3" fill="#454545">(2)</text>
<text x="349.4" y="569.15" font-family='"Liberation Serif", serif' font-size="8.8" fill="#454545" font-style="italic">j</text>
<text x="366.8" y="618.3" font-family='"Liberation Sans", sans-serif' font-size="12" fill="#262626" text-anchor="middle" textLength="7.01" lengthAdjust="spacingAndGlyphs">0</text>
<line x1="366.8" y1="600.4" x2="366.8" y2="598.6" stroke="#878787" stroke-width="1.05"/>
<line x1="366.8" y1="541.3" x2="366.8" y2="543.1" stroke="#878787" stroke-width="1.05"/>
<text x="420.6" y="618.3" font-family='"Liberation Sans", sans-serif' font-size="12" fill="#262626" text-anchor="middle" textLength="21.02" lengthAdjust="spacingAndGlyphs">100</text>
<line x1="420.6" y1="600.4" x2="420.6" y2="598.6" stroke="#878787" stroke-width="1.05"/>
<line x1="420.6" y1="541.3" x2="420.6" y2="543.1" stroke="#878787" stroke-width="1.05"/>
<text x="473.7" y="618.3" font-family='"Liberation Sans", sans-serif' font-size="12" fill="#262626" text-anchor="middle" textLength="21.02" lengthAdjust="spacingAndGlyphs">200</text>
<line x1="473.7" y1="600.4" x2="473.7" y2="598.6" stroke="#878787" stroke-width="1.05"/>
<line x1="473.7" y1="541.3" x2="473.7" y2="543.1" stroke="#878787" stroke-width="1.05"/>
<text x="425.2" y="633.7" font-family='"Liberation Serif", serif' font-size="15.4" fill="#333" text-anchor="middle" font-style="italic">j</text>
<defs><linearGradient id="pg" x1="0" y1="1" x2="0" y2="0"><stop offset="0.0000" stop-color="#3E26A8"/><stop offset="0.0476" stop-color="#4332CB"/><stop offset="0.0952" stop-color="#4741E5"/><stop offset="0.1429" stop-color="#4852F4"/><stop offset="0.1905" stop-color="#4563FD"/><stop offset="0.2381" stop-color="#3875FE"/><stop offset="0.2857" stop-color="#2E87F7"/><stop offset="0.3333" stop-color="#2797EB"/><stop offset="0.3810" stop-color="#20A5E3"/><stop offset="0.4286" stop-color="#12B1D6"/><stop offset="0.4762" stop-color="#02BAC3"/><stop offset="0.5238" stop-color="#24C1AE"/><stop offset="0.5714" stop-color="#37C897"/><stop offset="0.6190" stop-color="#57CC7A"/><stop offset="0.6667" stop-color="#81CC59"/><stop offset="0.7143" stop-color="#ABC739"/><stop offset="0.7619" stop-color="#D1BF27"/><stop offset="0.8095" stop-color="#F0BA36"/><stop offset="0.8571" stop-color="#FEC338"/><stop offset="0.9048" stop-color="#FAD62D"/><stop offset="0.9524" stop-color="#F5E924"/><stop offset="1.0000" stop-color="#F9FB15"/></linearGradient><filter id="bl" x="-5%" y="-5%" width="110%" height="110%"><feGaussianBlur stdDeviation="0.5"/></filter></defs>
<text x="513.5" y="289" font-family='"Liberation Sans", sans-serif' font-size="15.3" fill="#000" textLength="15" lengthAdjust="spacingAndGlyphs" stroke="#000" stroke-width="0.3">d5</text>
<text x="535.6" y="317.9" font-family='"Liberation Serif", serif' font-size="13.5" fill="#454545" text-anchor="middle">j</text>
<rect x="566.7" y="291.8" width="79.4" height="58.8" fill="#F3E727"/>
<rect x="566.7" y="291.8" width="68.3" height="8.1" fill="#98C742"/>
<rect x="635" y="291.8" width="11.1" height="58.8" fill="#F8E921"/>
<line x1="566.7" y1="291.8" x2="566.7" y2="350.6" stroke="#bbb" stroke-width="0.6"/>
<line x1="566.7" y1="350.6" x2="646.1" y2="350.6" stroke="#bbb" stroke-width="0.6"/>
<text x="560.8" y="297.7" font-family='"Liberation Sans", sans-serif' font-size="12" fill="#262626" text-anchor="end" textLength="21.02" lengthAdjust="spacingAndGlyphs">200</text>
<text x="560.8" y="324.1" font-family='"Liberation Sans", sans-serif' font-size="12" fill="#262626" text-anchor="end" textLength="21.02" lengthAdjust="spacingAndGlyphs">100</text>
<text x="560.8" y="351.4" font-family='"Liberation Sans", sans-serif' font-size="12" fill="#262626" text-anchor="end" textLength="7.01" lengthAdjust="spacingAndGlyphs">0</text>
<rect x="653.6" y="292.3" width="11.9" height="58.3" fill="url(#pg)" stroke="#666" stroke-width="0.7"/>
<text x="670.4" y="296.8" font-family='"Liberation Sans", sans-serif' font-size="12" fill="#262626">2</text>
<text x="670.4" y="325.95" font-family='"Liberation Sans", sans-serif' font-size="12" fill="#262626">1</text>
<text x="670.4" y="355.1" font-family='"Liberation Sans", sans-serif' font-size="12" fill="#262626">0</text>
<text x="673" y="311" font-family='"Liberation Serif", serif' font-size="11" fill="#454545" font-style="italic">b</text>
<text x="678.6" y="306.2" font-family='"Liberation Serif", serif' font-size="7" fill="#454545">1</text>
<text x="678.3" y="313.8" font-family='"Liberation Serif", serif' font-size="7.5" fill="#454545" font-style="italic">ij</text>
<text x="513.5" y="365.7" font-family='"Liberation Sans", sans-serif' font-size="15.3" fill="#000" textLength="15" lengthAdjust="spacingAndGlyphs" stroke="#000" stroke-width="0.3">d6</text>
<text x="535.6" y="389.9" font-family='"Liberation Serif", serif' font-size="13.5" fill="#454545" text-anchor="middle">j</text>
<rect x="566.7" y="363" width="79.7" height="59.4" fill="#F9FB15"/>
<line x1="566.7" y1="363" x2="566.7" y2="422.4" stroke="#bbb" stroke-width="0.6"/>
<line x1="566.7" y1="422.4" x2="646.4" y2="422.4" stroke="#bbb" stroke-width="0.6"/>
<text x="560.8" y="369.2" font-family='"Liberation Sans", sans-serif' font-size="12" fill="#262626" text-anchor="end" textLength="21.02" lengthAdjust="spacingAndGlyphs">200</text>
<text x="560.8" y="396.2" font-family='"Liberation Sans", sans-serif' font-size="12" fill="#262626" text-anchor="end" textLength="21.02" lengthAdjust="spacingAndGlyphs">100</text>
<text x="560.8" y="423.2" font-family='"Liberation Sans", sans-serif' font-size="12" fill="#262626" text-anchor="end" textLength="7.01" lengthAdjust="spacingAndGlyphs">0</text>
<text x="571.6" y="440.1" font-family='"Liberation Sans", sans-serif' font-size="12" fill="#262626" text-anchor="middle" textLength="7.01" lengthAdjust="spacingAndGlyphs">0</text>
<text x="608" y="440.1" font-family='"Liberation Sans", sans-serif' font-size="12" fill="#262626" text-anchor="middle" textLength="21.02" lengthAdjust="spacingAndGlyphs">100</text>
<text x="644.5" y="440.1" font-family='"Liberation Sans", sans-serif' font-size="12" fill="#262626" text-anchor="middle" textLength="21.02" lengthAdjust="spacingAndGlyphs">200</text>
<rect x="653.6" y="364" width="11.9" height="58.4" fill="url(#pg)" stroke="#666" stroke-width="0.7"/>
<text x="670.4" y="368.5" font-family='"Liberation Sans", sans-serif' font-size="12" fill="#262626">1</text>
<text x="670.4" y="397.7" font-family='"Liberation Sans", sans-serif' font-size="12" fill="#262626">0</text>
<text x="670.4" y="426.9" font-family='"Liberation Sans", sans-serif' font-size="12" fill="#262626">-1</text>
<text x="673" y="382" font-family='"Liberation Serif", serif' font-size="11" fill="#454545" font-style="italic">b</text>
<text x="678.6" y="377.2" font-family='"Liberation Serif", serif' font-size="7" fill="#454545">2</text>
<text x="678.3" y="384.8" font-family='"Liberation Serif", serif' font-size="7.5" fill="#454545" font-style="italic">ij</text>
<text x="606.2" y="455.9" font-family='"Liberation Serif", serif' font-size="15.2" fill="#333" text-anchor="middle">i</text>
<text x="503.9" y="471.3" font-family='"Liberation Sans", sans-serif' font-size="15.3" fill="#000" textLength="15.2" lengthAdjust="spacingAndGlyphs" stroke="#000" stroke-width="0.3">e5</text>
<text x="530.7" y="495.9" font-family='"Liberation Serif", serif' font-size="13.5" fill="#454545" text-anchor="middle">j</text>
<g filter="url(#bl)">
<rect x="561" y="471.7" width="74.05" height="4.1" fill="#12BEB9"/>
<rect x="634.05" y="471.7" width="5.1" height="4.1" fill="#F6F21E"/>
<rect x="561" y="474.8" width="5.87" height="4.61" fill="#FEC437"/>
<rect x="565.87" y="474.8" width="5.87" height="4.61" fill="#84CC56"/>
<rect x="570.74" y="474.8" width="10.74" height="4.61" fill="#F6F21E"/>
<rect x="580.48" y="474.8" width="5.87" height="4.61" fill="#D3BF27"/>
<rect x="585.35" y="474.8" width="5.87" height="4.61" fill="#84CC56"/>
<rect x="590.22" y="474.8" width="5.87" height="4.61" fill="#412DBB"/>
<rect x="595.09" y="474.8" width="5.87" height="4.61" fill="#465FFB"/>
<rect x="599.96" y="474.8" width="5.87" height="4.61" fill="#412DBB"/>
<rect x="604.83" y="474.8" width="5.87" height="4.61" fill="#12BEB9"/>
<rect x="609.7" y="474.8" width="10.74" height="4.61" fill="#465FFB"/>
<rect x="619.44" y="474.8" width="10.74" height="4.61" fill="#412DBB"/>
<rect x="629.18" y="474.8" width="5.87" height="4.61" fill="#F6F21E"/>
<rect x="634.05" y="474.8" width="5.1" height="4.61" fill="#12BEB9"/>
<rect x="561" y="478.41" width="5.87" height="4.61" fill="#412DBB"/>
<rect x="565.87" y="478.41" width="5.87" height="4.61" fill="#FEC437"/>
<rect x="570.74" y="478.41" width="10.74" height="4.61" fill="#465FFB"/>
<rect x="580.48" y="478.41" width="5.87" height="4.61" fill="#D3BF27"/>
<rect x="585.35" y="478.41" width="5.87" height="4.61" fill="#412DBB"/>
<rect x="590.22" y="478.41" width="5.87" height="4.61" fill="#12BEB9"/>
<rect x="595.09" y="478.41" width="5.87" height="4.61" fill="#465FFB"/>
<rect x="599.96" y="478.41" width="5.87" height="4.61" fill="#41CA8C"/>
<rect x="604.83" y="478.41" width="5.87" height="4.61" fill="#412DBB"/>
<rect x="609.7" y="478.41" width="10.74" height="4.61" fill="#F6F21E"/>
<rect x="619.44" y="478.41" width="5.87" height="4.61" fill="#FEC437"/>
<rect x="624.31" y="478.41" width="5.87" height="4.61" fill="#F6F21E"/>
<rect x="629.18" y="478.41" width="9.97" height="4.61" fill="#12BEB9"/>
<rect x="561" y="482.03" width="5.87" height="4.61" fill="#412DBB"/>
<rect x="565.87" y="482.03" width="5.87" height="4.61" fill="#84CC56"/>
<rect x="570.74" y="482.03" width="10.74" height="4.61" fill="#412DBB"/>
<rect x="580.48" y="482.03" width="5.87" height="4.61" fill="#12BEB9"/>
<rect x="585.35" y="482.03" width="5.87" height="4.61" fill="#465FFB"/>
<rect x="590.22" y="482.03" width="5.87" height="4.61" fill="#D3BF27"/>
<rect x="595.09" y="482.03" width="5.87" height="4.61" fill="#12BEB9"/>
<rect x="599.96" y="482.03" width="5.87" height="4.61" fill="#D3BF27"/>
<rect x="604.83" y="482.03" width="5.87" height="4.61" fill="#465FFB"/>
<rect x="609.7" y="482.03" width="5.87" height="4.61" fill="#F6F21E"/>
<rect x="614.57" y="482.03" width="5.87" height="4.61" fill="#FEC437"/>
<rect x="619.44" y="482.03" width="10.74" height="4.61" fill="#F6F21E"/>
<rect x="629.18" y="482.03" width="5.87" height="4.61" fill="#465FFB"/>
<rect x="634.05" y="482.03" width="5.1" height="4.61" fill="#12BEB9"/>
<rect x="561" y="485.64" width="5.87" height="4.61" fill="#465FFB"/>
<rect x="565.87" y="485.64" width="5.87" height="4.61" fill="#F6F21E"/>
<rect x="570.74" y="485.64" width="10.74" height="4.61" fill="#22A1E4"/>
<rect x="580.48" y="485.64" width="5.87" height="4.61" fill="#F6F21E"/>
<rect x="585.35" y="485.64" width="5.87" height="4.61" fill="#412DBB"/>
<rect x="590.22" y="485.64" width="5.87" height="4.61" fill="#465FFB"/>
<rect x="595.09" y="485.64" width="5.87" height="4.61" fill="#412DBB"/>
<rect x="599.96" y="485.64" width="5.87" height="4.61" fill="#465FFB"/>
<rect x="604.83" y="485.64" width="5.87" height="4.61" fill="#412DBB"/>
<rect x="609.7" y="485.64" width="10.74" height="4.61" fill="#F6F21E"/>
<rect x="619.44" y="485.64" width="5.87" height="4.61" fill="#12BEB9"/>
<rect x="624.31" y="485.64" width="5.87" height="4.61" fill="#D3BF27"/>
<rect x="629.18" y="485.64" width="5.87" height="4.61" fill="#84CC56"/>
<rect x="634.05" y="485.64" width="5.1" height="4.61" fill="#12BEB9"/>
<rect x="561" y="489.25" width="5.87" height="4.61" fill="#465FFB"/>
<rect x="565.87" y="489.25" width="5.87" height="4.61" fill="#F6F21E"/>
<rect x="570.74" y="489.25" width="10.74" height="4.61" fill="#22A1E4"/>
<rect x="580.48" y="489.25" width="5.87" height="4.61" fill="#FEC437"/>
<rect x="585.35" y="489.25" width="5.87" height="4.61" fill="#412DBB"/>
<rect x="590.22" y="489.25" width="5.87" height="4.61" fill="#465FFB"/>
<rect x="595.09" y="489.25" width="5.87" height="4.61" fill="#412DBB"/>
<rect x="599.96" y="489.25" width="5.87" height="4.61" fill="#465FFB"/>
<rect x="604.83" y="489.25" width="5.87" height="4.61" fill="#412DBB"/>
<rect x="609.7" y="489.25" width="10.74" height="4.61" fill="#F6F21E"/>
<rect x="619.44" y="489.25" width="5.87" height="4.61" fill="#84CC56"/>
<rect x="624.31" y="489.25" width="5.87" height="4.61" fill="#FEC437"/>
<rect x="629.18" y="489.25" width="5.87" height="4.61" fill="#84CC56"/>
<rect x="634.05" y="489.25" width="5.1" height="4.61" fill="#12BEB9"/>
<rect x="561" y="492.87" width="5.87" height="4.61" fill="#84CC56"/>
<rect x="565.87" y="492.87" width="5.87" height="4.61" fill="#412DBB"/>
<rect x="570.74" y="492.87" width="10.74" height="4.61" fill="#22A1E4"/>
<rect x="580.48" y="492.87" width="5.87" height="4.61" fill="#412DBB"/>
<rect x="585.35" y="492.87" width="10.74" height="4.61" fill="#FEC437"/>
<rect x="595.09" y="492.87" width="5.87" height="4.61" fill="#F6F21E"/>
<rect x="599.96" y="492.87" width="5.87" height="4.61" fill="#FEC437"/>
<rect x="604.83" y="492.87" width="5.87" height="4.61" fill="#F6F21E"/>
<rect x="609.7" y="492.87" width="10.74" height="4.61" fill="#465FFB"/>
<rect x="619.44" y="492.87" width="5.87" height="4.61" fill="#84CC56"/>
<rect x="624.31" y="492.87" width="5.87" height="4.61" fill="#22A1E4"/>
<rect x="629.18" y="492.87" width="5.87" height="4.61" fill="#412DBB"/>
<rect x="634.05" y="492.87" width="5.1" height="4.61" fill="#41CA8C"/>
<rect x="561" y="496.48" width="5.87" height="4.61" fill="#465FFB"/>
<rect x="565.87" y="496.48" width="5.87" height="4.61" fill="#22A1E4"/>
<rect x="570.74" y="496.48" width="10.74" height="4.61" fill="#412DBB"/>
<rect x="580.48" y="496.48" width="5.87" height="4.61" fill="#465FFB"/>
<rect x="585.35" y="496.48" width="5.87" height="4.61" fill="#22A1E4"/>
<rect x="590.22" y="496.48" width="5.87" height="4.61" fill="#F6F21E"/>
<rect x="595.09" y="496.48" width="5.87" height="4.61" fill="#84CC56"/>
<rect x="599.96" y="496.48" width="5.87" height="4.61" fill="#F6F21E"/>
<rect x="604.83" y="496.48" width="5.87" height="4.61" fill="#12BEB9"/>
<rect x="609.7" y="496.48" width="5.87" height="4.61" fill="#D3BF27"/>
<rect x="614.57" y="496.48" width="5.87" height="4.61" fill="#84CC56"/>
<rect x="619.44" y="496.48" width="5.87" height="4.61" fill="#F6F21E"/>
<rect x="624.31" y="496.48" width="5.87" height="4.61" fill="#FEC437"/>
<rect x="629.18" y="496.48" width="5.87" height="4.61" fill="#412DBB"/>
<rect x="634.05" y="496.48" width="5.1" height="4.61" fill="#41CA8C"/>
<rect x="561" y="500.09" width="5.87" height="4.61" fill="#12BEB9"/>
<rect x="565.87" y="500.09" width="15.61" height="4.61" fill="#465FFB"/>
<rect x="580.48" y="500.09" width="5.87" height="4.61" fill="#412DBB"/>
<rect x="585.35" y="500.09" width="5.87" height="4.61" fill="#84CC56"/>
<rect x="590.22" y="500.09" width="15.61" height="4.61" fill="#F6F21E"/>
<rect x="604.83" y="500.09" width="5.87" height="4.61" fill="#D3BF27"/>
<rect x="609.7" y="500.09" width="10.74" height="4.61" fill="#22A1E4"/>
<rect x="619.44" y="500.09" width="5.87" height="4.61" fill="#FEC437"/>
<rect x="624.31" y="500.09" width="5.87" height="4.61" fill="#84CC56"/>
<rect x="629.18" y="500.09" width="5.87" height="4.61" fill="#412DBB"/>
<rect x="634.05" y="500.09" width="5.1" height="4.61" fill="#41CA8C"/>
<rect x="561" y="503.7" width="5.87" height="4.61" fill="#465FFB"/>
<rect x="565.87" y="503.7" width="5.87" height="4.61" fill="#22A1E4"/>
<rect x="570.74" y="503.7" width="10.74" height="4.61" fill="#412DBB"/>
<rect x="580.48" y="503.7" width="5.87" height="4.61" fill="#465FFB"/>
<rect x="585.35" y="503.7" width="5.87" height="4.61" fill="#22A1E4"/>
<rect x="590.22" y="503.7" width="5.87" height="4.61" fill="#F6F21E"/>
<rect x="595.09" y="503.7" width="5.87" height="4.61" fill="#D3BF27"/>
<rect x="599.96" y="503.7" width="5.87" height="4.61" fill="#F6F21E"/>
<rect x="604.83" y="503.7" width="5.87" height="4.61" fill="#12BEB9"/>
<rect x="609.7" y="503.7" width="5.87" height="4.61" fill="#D3BF27"/>
<rect x="614.57" y="503.7" width="5.87" height="4.61" fill="#84CC56"/>
<rect x="619.44" y="503.7" width="5.87" height="4.61" fill="#F6F21E"/>
<rect x="624.31" y="503.7" width="5.87" height="4.61" fill="#FEC437"/>
<rect x="629.18" y="503.7" width="5.87" height="4.61" fill="#412DBB"/>
<rect x="634.05" y="503.7" width="5.1" height="4.61" fill="#41CA8C"/>
<rect x="561" y="507.32" width="5.87" height="4.61" fill="#D3BF27"/>
<rect x="565.87" y="507.32" width="5.87" height="4.61" fill="#412DBB"/>
<rect x="570.74" y="507.32" width="5.87" height="4.61" fill="#12BEB9"/>
<rect x="575.61" y="507.32" width="5.87" height="4.61" fill="#22A1E4"/>
<rect x="580.48" y="507.32" width="5.87" height="4.61" fill="#412DBB"/>
<rect x="585.35" y="507.32" width="5.87" height="4.61" fill="#F6F21E"/>
<rect x="590.22" y="507.32" width="5.87" height="4.61" fill="#FEC437"/>
<rect x="595.09" y="507.32" width="5.87" height="4.61" fill="#F6F21E"/>
<rect x="599.96" y="507.32" width="5.87" height="4.61" fill="#D3BF27"/>
<rect x="604.83" y="507.32" width="5.87" height="4.61" fill="#F6F21E"/>
<rect x="609.7" y="507.32" width="5.87" height="4.61" fill="#465FFB"/>
<rect x="614.57" y="507.32" width="5.87" height="4.61" fill="#412DBB"/>
<rect x="619.44" y="507.32" width="5.87" height="4.61" fill="#84CC56"/>
<rect x="624.31" y="507.32" width="5.87" height="4.61" fill="#22A1E4"/>
<rect x="629.18" y="507.32" width="5.87" height="4.61" fill="#465FFB"/>
<rect x="634.05" y="507.32" width="5.1" height="4.61" fill="#41CA8C"/>
<rect x="561" y="510.93" width="5.87" height="4.61" fill="#84CC56"/>
<rect x="565.87" y="510.93" width="15.61" height="4.61" fill="#FEC437"/>
<rect x="580.48" y="510.93" width="5.87" height="4.61" fill="#F6F21E"/>
<rect x="585.35" y="510.93" width="5.87" height="4.61" fill="#22A1E4"/>
<rect x="590.22" y="510.93" width="5.87" height="4.61" fill="#412DBB"/>
<rect x="595.09" y="510.93" width="5.87" height="4.61" fill="#465FFB"/>
<rect x="599.96" y="510.93" width="5.87" height="4.61" fill="#412DBB"/>
<rect x="604.83" y="510.93" width="5.87" height="4.61" fill="#22A1E4"/>
<rect x="609.7" y="510.93" width="5.87" height="4.61" fill="#41CA8C"/>
<rect x="614.57" y="510.93" width="5.87" height="4.61" fill="#84CC56"/>
<rect x="619.44" y="510.93" width="10.74" height="4.61" fill="#465FFB"/>
<rect x="629.18" y="510.93" width="5.87" height="4.61" fill="#F6F21E"/>
<rect x="634.05" y="510.93" width="5.1" height="4.61" fill="#12BEB9"/>
<rect x="561" y="514.54" width="5.87" height="4.61" fill="#F6F21E"/>
<rect x="565.87" y="514.54" width="5.87" height="4.61" fill="#22A1E4"/>
<rect x="570.74" y="514.54" width="10.74" height="4.61" fill="#F6F21E"/>
<rect x="580.48" y="514.54" width="5.87" height="4.61" fill="#12BEB9"/>
<rect x="585.35" y="514.54" width="5.87" height="4.61" fill="#FEC437"/>
<rect x="590.22" y="514.54" width="5.87" height="4.61" fill="#465FFB"/>
<rect x="595.09" y="514.54" width="5.87" height="4.61" fill="#41CA8C"/>
<rect x="599.96" y="514.54" width="5.87" height="4.61" fill="#465FFB"/>
<rect x="604.83" y="514.54" width="5.87" height="4.61" fill="#D3BF27"/>
<rect x="609.7" y="514.54" width="20.48" height="4.61" fill="#412DBB"/>
<rect x="629.18" y="514.54" width="5.87" height="4.61" fill="#D3BF27"/>
<rect x="634.05" y="514.54" width="5.1" height="4.61" fill="#12BEB9"/>
<rect x="561" y="518.16" width="5.87" height="4.61" fill="#F6F21E"/>
<rect x="565.87" y="518.16" width="5.87" height="4.61" fill="#22A1E4"/>
<rect x="570.74" y="518.16" width="10.74" height="4.61" fill="#F6F21E"/>
<rect x="580.48" y="518.16" width="5.87" height="4.61" fill="#12BEB9"/>
<rect x="585.35" y="518.16" width="5.87" height="4.61" fill="#FEC437"/>
<rect x="590.22" y="518.16" width="5.87" height="4.61" fill="#22A1E4"/>
<rect x="595.09" y="518.16" width="5.87" height="4.61" fill="#84CC56"/>
<rect x="599.96" y="518.16" width="5.87" height="4.61" fill="#465FFB"/>
<rect x="604.83" y="518.16" width="5.87" height="4.61" fill="#FEC437"/>
<rect x="609.7" y="518.16" width="20.48" height="4.61" fill="#412DBB"/>
<rect x="629.18" y="518.16" width="5.87" height="4.61" fill="#84CC56"/>
<rect x="634.05" y="518.16" width="5.1" height="4.61" fill="#12BEB9"/>
<rect x="561" y="521.77" width="5.87" height="4.61" fill="#12BEB9"/>
<rect x="565.87" y="521.77" width="5.87" height="4.61" fill="#F6F21E"/>
<rect x="570.74" y="521.77" width="5.87" height="4.61" fill="#D3BF27"/>
<rect x="575.61" y="521.77" width="5.87" height="4.61" fill="#FEC437"/>
<rect x="580.48" y="521.77" width="5.87" height="4.61" fill="#F6F21E"/>
<rect x="585.35" y="521.77" width="5.87" height="4.61" fill="#465FFB"/>
<rect x="590.22" y="521.77" width="15.61" height="4.61" fill="#412DBB"/>
<rect x="604.83" y="521.77" width="5.87" height="4.61" fill="#465FFB"/>
<rect x="609.7" y="521.77" width="10.74" height="4.61" fill="#84CC56"/>
<rect x="619.44" y="521.77" width="5.87" height="4.61" fill="#465FFB"/>
<rect x="624.31" y="521.77" width="5.87" height="4.61" fill="#22A1E4"/>
<rect x="629.18" y="521.77" width="5.87" height="4.61" fill="#F6F21E"/>
<rect x="634.05" y="521.77" width="5.1" height="4.61" fill="#12BEB9"/>
<rect x="561" y="525.38" width="5.87" height="3.61" fill="#F6F21E"/>
<rect x="565.87" y="525.38" width="5.87" height="3.61" fill="#412DBB"/>
<rect x="570.74" y="525.38" width="5.87" height="3.61" fill="#D3BF27"/>
<rect x="575.61" y="525.38" width="5.87" height="3.61" fill="#84CC56"/>
<rect x="580.48" y="525.38" width="5.87" height="3.61" fill="#465FFB"/>
<rect x="585.35" y="525.38" width="5.87" height="3.61" fill="#F6F21E"/>
<rect x="590.22" y="525.38" width="5.87" height="3.61" fill="#41CA8C"/>
<rect x="595.09" y="525.38" width="5.87" height="3.61" fill="#FEC437"/>
<rect x="599.96" y="525.38" width="5.87" height="3.61" fill="#12BEB9"/>
<rect x="604.83" y="525.38" width="5.87" height="3.61" fill="#F6F21E"/>
<rect x="609.7" y="525.38" width="10.74" height="3.61" fill="#412DBB"/>
<rect x="619.44" y="525.38" width="5.87" height="3.61" fill="#22A1E4"/>
<rect x="624.31" y="525.38" width="5.87" height="3.61" fill="#412DBB"/>
<rect x="629.18" y="525.38" width="5.87" height="3.61" fill="#22A1E4"/>
<rect x="634.05" y="525.38" width="5.1" height="3.61" fill="#12BEB9"/>
</g>
<rect x="561" y="469.5" width="79.5" height="59.5" fill="none" stroke="#ddd" stroke-width="0.6"/>
<text x="555.6" y="474.9" font-family='"Liberation Sans", sans-serif' font-size="12" fill="#262626" text-anchor="end" textLength="21.02" lengthAdjust="spacingAndGlyphs">200</text>
<text x="555.6" y="503.5" font-family='"Liberation Sans", sans-serif' font-size="12" fill="#262626" text-anchor="end" textLength="21.02" lengthAdjust="spacingAndGlyphs">100</text>
<text x="555.6" y="531.8" font-family='"Liberation Sans", sans-serif' font-size="12" fill="#262626" text-anchor="end" textLength="7.01" lengthAdjust="spacingAndGlyphs">0</text>
<rect x="650.4" y="469.8" width="12.6" height="59.2" fill="url(#pg)" stroke="#666" stroke-width="0.7"/>
<text x="667.4" y="474.3" font-family='"Liberation Sans", sans-serif' font-size="12" fill="#262626">2</text>
<text x="667.4" y="503.9" font-family='"Liberation Sans", sans-serif' font-size="12" fill="#262626">1</text>
<text x="667.4" y="533.5" font-family='"Liberation Sans", sans-serif' font-size="12" fill="#262626">0</text>
<text x="670" y="491.8" font-family='"Liberation Serif", serif' font-size="11" fill="#454545" font-style="italic">b</text>
<text x="675.6" y="487" font-family='"Liberation Serif", serif' font-size="7" fill="#454545">1</text>
<text x="675.3" y="494.6" font-family='"Liberation Serif", serif' font-size="7.5" fill="#454545" font-style="italic">ij</text>
<text x="502.7" y="547.6" font-family='"Liberation Sans", sans-serif' font-size="15.3" fill="#000" textLength="15.5" lengthAdjust="spacingAndGlyphs" stroke="#000" stroke-width="0.3">e6</text>
<text x="531" y="567.5" font-family='"Liberation Serif", serif' font-size="13.5" fill="#454545" text-anchor="middle">j</text>
<rect x="561" y="541.9" width="80.45" height="58.6" fill="#F9FB15"/>
<g filter="url(#bl)">
<rect x="591.18" y="546.8" width="6.03" height="4.58" fill="#12BEB9"/>
<rect x="596.21" y="546.8" width="6.03" height="4.58" fill="#FEC13A"/>
<rect x="601.24" y="546.8" width="6.03" height="4.58" fill="#12BEB9"/>
<rect x="611.3" y="546.8" width="6.03" height="4.58" fill="#D0C027"/>
<rect x="616.33" y="546.8" width="6.03" height="4.58" fill="#FEC13A"/>
<rect x="621.36" y="546.8" width="6.03" height="4.58" fill="#12BEB9"/>
<rect x="626.39" y="546.8" width="6.03" height="4.58" fill="#39C895"/>
<rect x="561" y="550.38" width="6.03" height="4.58" fill="#12BEB9"/>
<rect x="571.06" y="550.38" width="6.03" height="4.58" fill="#71CD64"/>
<rect x="576.09" y="550.38" width="6.03" height="4.58" fill="#D0C027"/>
<rect x="586.15" y="550.38" width="6.03" height="4.58" fill="#12BEB9"/>
<rect x="596.21" y="550.38" width="6.03" height="4.58" fill="#D0C027"/>
<rect x="606.27" y="550.38" width="6.03" height="4.58" fill="#12BEB9"/>
<rect x="631.42" y="550.38" width="6.03" height="4.58" fill="#F5E825"/>
<rect x="561" y="553.96" width="6.03" height="4.58" fill="#12BEB9"/>
<rect x="571.06" y="553.96" width="11.06" height="4.58" fill="#12BEB9"/>
<rect x="586.15" y="553.96" width="6.03" height="4.58" fill="#71CD64"/>
<rect x="596.21" y="553.96" width="6.03" height="4.58" fill="#FAD42E"/>
<rect x="606.27" y="553.96" width="6.03" height="4.58" fill="#D0C027"/>
<rect x="631.42" y="553.96" width="6.03" height="4.58" fill="#D0C027"/>
<rect x="561" y="557.54" width="6.03" height="4.58" fill="#71CD64"/>
<rect x="571.06" y="557.54" width="6.03" height="4.58" fill="#FAD42E"/>
<rect x="576.09" y="557.54" width="6.03" height="4.58" fill="#F5E825"/>
<rect x="586.15" y="557.54" width="6.03" height="4.58" fill="#12BEB9"/>
<rect x="591.18" y="557.54" width="6.03" height="4.58" fill="#D0C027"/>
<rect x="596.21" y="557.54" width="6.03" height="4.58" fill="#12BEB9"/>
<rect x="601.24" y="557.54" width="6.03" height="4.58" fill="#D0C027"/>
<rect x="606.27" y="557.54" width="6.03" height="4.58" fill="#12BEB9"/>
<rect x="561" y="561.12" width="6.03" height="4.58" fill="#71CD64"/>
<rect x="571.06" y="561.12" width="6.03" height="4.58" fill="#FEC13A"/>
<rect x="576.09" y="561.12" width="6.03" height="4.58" fill="#FAD42E"/>
<rect x="586.15" y="561.12" width="6.03" height="4.58" fill="#12BEB9"/>
<rect x="591.18" y="561.12" width="6.03" height="4.58" fill="#FEC13A"/>
<rect x="596.21" y="561.12" width="6.03" height="4.58" fill="#39C895"/>
<rect x="601.24" y="561.12" width="6.03" height="4.58" fill="#FEC13A"/>
<rect x="606.27" y="561.12" width="6.03" height="4.58" fill="#12BEB9"/>
<rect x="566.03" y="564.7" width="6.03" height="4.58" fill="#12BEB9"/>
<rect x="571.06" y="564.7" width="6.03" height="4.58" fill="#FAD42E"/>
<rect x="576.09" y="564.7" width="6.03" height="4.58" fill="#FEC13A"/>
<rect x="581.12" y="564.7" width="6.03" height="4.58" fill="#12BEB9"/>
<rect x="611.3" y="564.7" width="11.06" height="4.58" fill="#71CD64"/>
<rect x="626.39" y="564.7" width="6.03" height="4.58" fill="#FAD42E"/>
<rect x="631.42" y="564.7" width="6.03" height="4.58" fill="#71CD64"/>
<rect x="561" y="568.28" width="6.03" height="4.58" fill="#71CD64"/>
<rect x="566.03" y="568.28" width="6.03" height="4.58" fill="#FEC13A"/>
<rect x="571.06" y="568.28" width="11.06" height="4.58" fill="#12BEB9"/>
<rect x="581.12" y="568.28" width="6.03" height="4.58" fill="#D0C027"/>
<rect x="586.15" y="568.28" width="6.03" height="4.58" fill="#FEC13A"/>
<rect x="606.27" y="568.28" width="6.03" height="4.58" fill="#F5E825"/>
<rect x="631.42" y="568.28" width="6.03" height="4.58" fill="#12BEB9"/>
<rect x="561" y="571.86" width="6.03" height="4.58" fill="#FAD42E"/>
<rect x="566.03" y="571.86" width="6.03" height="4.58" fill="#12BEB9"/>
<rect x="571.06" y="571.86" width="6.03" height="4.58" fill="#D0C027"/>
<rect x="576.09" y="571.86" width="6.03" height="4.58" fill="#71CD64"/>
<rect x="581.12" y="571.86" width="6.03" height="4.58" fill="#12BEB9"/>
<rect x="611.3" y="571.86" width="6.03" height="4.58" fill="#FAD42E"/>
<rect x="616.33" y="571.86" width="6.03" height="4.58" fill="#FEC13A"/>
<rect x="631.42" y="571.86" width="6.03" height="4.58" fill="#12BEB9"/>
<rect x="561" y="575.44" width="6.03" height="4.58" fill="#71CD64"/>
<rect x="566.03" y="575.44" width="6.03" height="4.58" fill="#FEC13A"/>
<rect x="571.06" y="575.44" width="11.06" height="4.58" fill="#12BEB9"/>
<rect x="581.12" y="575.44" width="6.03" height="4.58" fill="#D0C027"/>
<rect x="586.15" y="575.44" width="6.03" height="4.58" fill="#FAD42E"/>
<rect x="631.42" y="575.44" width="6.03" height="4.58" fill="#12BEB9"/>
<rect x="566.03" y="579.02" width="6.03" height="4.58" fill="#12BEB9"/>
<rect x="576.09" y="579.02" width="6.03" height="4.58" fill="#F5E825"/>
<rect x="581.12" y="579.02" width="6.03" height="4.58" fill="#12BEB9"/>
<rect x="611.3" y="579.02" width="6.03" height="4.58" fill="#71CD64"/>
<rect x="616.33" y="579.02" width="6.03" height="4.58" fill="#39C895"/>
<rect x="626.39" y="579.02" width="6.03" height="4.58" fill="#FEC13A"/>
<rect x="631.42" y="579.02" width="6.03" height="4.58" fill="#D0C027"/>
<rect x="586.15" y="582.6" width="6.03" height="4.58" fill="#FEC13A"/>
<rect x="591.18" y="582.6" width="6.03" height="4.58" fill="#12BEB9"/>
<rect x="596.21" y="582.6" width="6.03" height="4.58" fill="#71CD64"/>
<rect x="601.24" y="582.6" width="6.03" height="4.58" fill="#12BEB9"/>
<rect x="606.27" y="582.6" width="6.03" height="4.58" fill="#D0C027"/>
<rect x="621.36" y="582.6" width="6.03" height="4.58" fill="#71CD64"/>
<rect x="626.39" y="582.6" width="6.03" height="4.58" fill="#FEC13A"/>
<rect x="566.03" y="586.18" width="6.03" height="4.58" fill="#FAD42E"/>
<rect x="591.18" y="586.18" width="6.03" height="4.58" fill="#D0C027"/>
<rect x="601.24" y="586.18" width="6.03" height="4.58" fill="#D0C027"/>
<rect x="611.3" y="586.18" width="6.03" height="4.58" fill="#12BEB9"/>
<rect x="616.33" y="586.18" width="6.03" height="4.58" fill="#39C895"/>
<rect x="621.36" y="586.18" width="11.06" height="4.58" fill="#12BEB9"/>
<rect x="566.03" y="589.76" width="6.03" height="4.58" fill="#FEC13A"/>
<rect x="581.12" y="589.76" width="6.03" height="4.58" fill="#F5E825"/>
<rect x="591.18" y="589.76" width="6.03" height="4.58" fill="#FEC13A"/>
<rect x="601.24" y="589.76" width="6.03" height="4.58" fill="#D0C027"/>
<rect x="611.3" y="589.76" width="6.03" height="4.58" fill="#12BEB9"/>
<rect x="616.33" y="589.76" width="6.03" height="4.58" fill="#71CD64"/>
<rect x="621.36" y="589.76" width="11.06" height="4.58" fill="#12BEB9"/>
<rect x="586.15" y="593.34" width="6.03" height="4.58" fill="#D0C027"/>
<rect x="591.18" y="593.34" width="16.09" height="4.58" fill="#12BEB9"/>
<rect x="606.27" y="593.34" width="6.03" height="4.58" fill="#D0C027"/>
<rect x="621.36" y="593.34" width="6.03" height="4.58" fill="#D0C027"/>
<rect x="626.39" y="593.34" width="6.03" height="4.58" fill="#FAD42E"/>
<rect x="566.03" y="596.92" width="6.03" height="3.58" fill="#71CD64"/>
<rect x="581.12" y="596.92" width="6.03" height="3.58" fill="#D0C027"/>
<rect x="611.3" y="596.92" width="11.06" height="3.58" fill="#12BEB9"/>
<rect x="621.36" y="596.92" width="6.03" height="3.58" fill="#D0C027"/>
<rect x="626.39" y="596.92" width="6.03" height="3.58" fill="#71CD64"/>
<rect x="631.42" y="596.92" width="6.03" height="3.58" fill="#F5E825"/>
</g>
<rect x="561" y="541.6" width="82.2" height="59" fill="none" stroke="#ddd" stroke-width="0.6"/>
<text x="555.6" y="546.5" font-family='"Liberation Sans", sans-serif' font-size="12" fill="#262626" text-anchor="end" textLength="21.02" lengthAdjust="spacingAndGlyphs">200</text>
<text x="555.6" y="575.3" font-family='"Liberation Sans", sans-serif' font-size="12" fill="#262626" text-anchor="end" textLength="21.02" lengthAdjust="spacingAndGlyphs">100</text>
<text x="555.6" y="603.7" font-family='"Liberation Sans", sans-serif' font-size="12" fill="#262626" text-anchor="end" textLength="7.01" lengthAdjust="spacingAndGlyphs">0</text>
<text x="563.5" y="617.8" font-family='"Liberation Sans", sans-serif' font-size="12" fill="#262626" text-anchor="middle" textLength="7.01" lengthAdjust="spacingAndGlyphs">0</text>
<text x="601.3" y="617.8" font-family='"Liberation Sans", sans-serif' font-size="12" fill="#262626" text-anchor="middle" textLength="21.02" lengthAdjust="spacingAndGlyphs">100</text>
<text x="640.4" y="617.8" font-family='"Liberation Sans", sans-serif' font-size="12" fill="#262626" text-anchor="middle" textLength="21.02" lengthAdjust="spacingAndGlyphs">200</text>
<rect x="650.6" y="541.9" width="12.2" height="58.9" fill="url(#pg)" stroke="#666" stroke-width="0.7"/>
<text x="667.4" y="546.4" font-family='"Liberation Sans", sans-serif' font-size="12" fill="#262626">1</text>
<text x="667.4" y="575.85" font-family='"Liberation Sans", sans-serif' font-size="12" fill="#262626">0</text>
<text x="667.4" y="605.3" font-family='"Liberation Sans", sans-serif' font-size="12" fill="#262626">-1</text>
<text x="670" y="557.4" font-family='"Liberation Serif", serif' font-size="11" fill="#454545" font-style="italic">b</text>
<text x="675.6" y="552.6" font-family='"Liberation Serif", serif' font-size="7" fill="#454545">2</text>
<text x="675.3" y="560.2" font-family='"Liberation Serif", serif' font-size="7.5" fill="#454545" font-style="italic">ij</text>
<text x="602.1" y="634.5" font-family='"Liberation Serif", serif' font-size="15.2" fill="#333" text-anchor="middle">i</text>
<line x1="205.7" y1="237.4" x2="221" y2="275.6" stroke="#E2703A" stroke-width="2.2"/>
<path d="M223.8 283 L217.2 277.4 L224.5 274.3 Z" fill="#E2703A"/>
<line x1="205.7" y1="201" x2="91.4" y2="457.6" stroke="#77259A" stroke-width="3.15"/>
<path d="M88.1 464 L88 455 L95.6 458.5 Z" fill="#77259A"/>
</svg></body></html>
